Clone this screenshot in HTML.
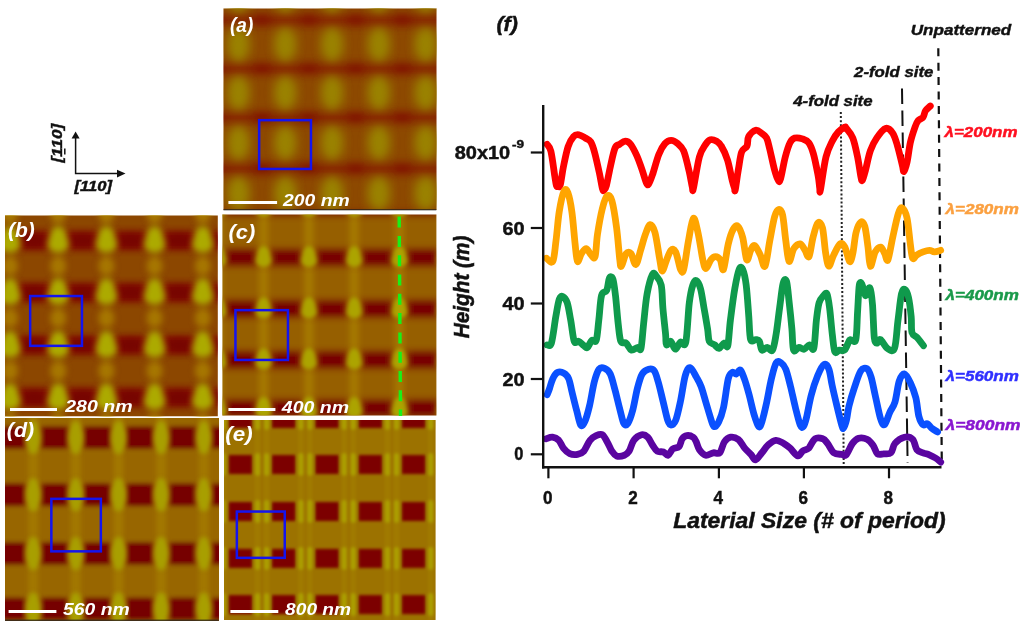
<!DOCTYPE html>
<html><head><meta charset="utf-8"><title>Figure</title>
<style>
html,body{margin:0;padding:0;background:#fff;}
body{width:1024px;height:626px;overflow:hidden;position:relative;}
svg{position:absolute;left:0;top:0;}
text{font-family:"Liberation Sans",sans-serif;font-weight:bold;}
</style></head><body>
<svg width="1024" height="626" viewBox="0 0 1024 626">
<defs><clipPath id="ca"><rect x="223.5" y="8.5" width="213" height="201.5"/></clipPath><clipPath id="cb"><rect x="5" y="215.6" width="212.8" height="200.6"/></clipPath><clipPath id="cc"><rect x="222.4" y="214.5" width="214" height="201"/></clipPath><clipPath id="cd"><rect x="5" y="418" width="213.7" height="202.5"/></clipPath><clipPath id="ce"><rect x="224" y="420" width="211.6" height="200"/></clipPath><filter id="f1" x="-5%" y="-5%" width="110%" height="110%"><feGaussianBlur stdDeviation="1.2"/></filter><filter id="f15" x="-5%" y="-5%" width="110%" height="110%"><feGaussianBlur stdDeviation="1.6"/></filter><filter id="f2" x="-5%" y="-5%" width="110%" height="110%"><feGaussianBlur stdDeviation="2.2"/></filter><filter id="f3" x="-5%" y="-5%" width="110%" height="110%"><feGaussianBlur stdDeviation="3"/></filter><filter id="f4" x="-5%" y="-5%" width="110%" height="110%"><feGaussianBlur stdDeviation="4"/></filter><filter id="f5" x="-5%" y="-5%" width="110%" height="110%"><feGaussianBlur stdDeviation="5"/></filter><filter id="f6" x="-5%" y="-5%" width="110%" height="110%"><feGaussianBlur stdDeviation="6"/></filter></defs>
<g clip-path="url(#ca)"><g filter="url(#f5)"><rect x="211.5" y="-3.5" width="237" height="225.5" fill="#8e4e04"/><rect x="165.3" y="-3.5" width="6" height="225.5" fill="#883000" opacity="0.35"/><rect x="212.1" y="-3.5" width="6" height="225.5" fill="#883000" opacity="0.35"/><rect x="258.9" y="-3.5" width="6" height="225.5" fill="#883000" opacity="0.35"/><rect x="305.8" y="-3.5" width="6" height="225.5" fill="#883000" opacity="0.35"/><rect x="352.6" y="-3.5" width="6" height="225.5" fill="#883000" opacity="0.35"/><rect x="399.4" y="-3.5" width="6" height="225.5" fill="#883000" opacity="0.35"/><rect x="446.2" y="-3.5" width="6" height="225.5" fill="#883000" opacity="0.35"/><rect x="493.0" y="-3.5" width="6" height="225.5" fill="#883000" opacity="0.35"/><rect x="539.8" y="-3.5" width="6" height="225.5" fill="#883000" opacity="0.35"/><rect x="211.5" y="-35.2" width="237" height="13" fill="#862000" opacity="0.9"/><rect x="211.5" y="13.5" width="237" height="13" fill="#862000" opacity="0.9"/><rect x="211.5" y="62.2" width="237" height="13" fill="#862000" opacity="0.9"/><rect x="211.5" y="111.0" width="237" height="13" fill="#862000" opacity="0.9"/><rect x="211.5" y="162.1" width="237" height="13" fill="#862000" opacity="0.9"/><rect x="211.5" y="212.1" width="237" height="13" fill="#862000" opacity="0.9"/></g><g filter="url(#f3)"><ellipse cx="168.3" cy="-28.7" rx="9" ry="5" fill="#781000" opacity="0.4"/><ellipse cx="215.1" cy="-28.7" rx="9" ry="5" fill="#781000" opacity="0.4"/><ellipse cx="261.9" cy="-28.7" rx="9" ry="5" fill="#781000" opacity="0.4"/><ellipse cx="308.8" cy="-28.7" rx="9" ry="5" fill="#781000" opacity="0.4"/><ellipse cx="355.6" cy="-28.7" rx="9" ry="5" fill="#781000" opacity="0.4"/><ellipse cx="402.4" cy="-28.7" rx="9" ry="5" fill="#781000" opacity="0.4"/><ellipse cx="449.2" cy="-28.7" rx="9" ry="5" fill="#781000" opacity="0.4"/><ellipse cx="496.0" cy="-28.7" rx="9" ry="5" fill="#781000" opacity="0.4"/><ellipse cx="542.8" cy="-28.7" rx="9" ry="5" fill="#781000" opacity="0.4"/><ellipse cx="168.3" cy="20.0" rx="9" ry="5" fill="#781000" opacity="0.4"/><ellipse cx="215.1" cy="20.0" rx="9" ry="5" fill="#781000" opacity="0.4"/><ellipse cx="261.9" cy="20.0" rx="9" ry="5" fill="#781000" opacity="0.4"/><ellipse cx="308.8" cy="20.0" rx="9" ry="5" fill="#781000" opacity="0.4"/><ellipse cx="355.6" cy="20.0" rx="9" ry="5" fill="#781000" opacity="0.4"/><ellipse cx="402.4" cy="20.0" rx="9" ry="5" fill="#781000" opacity="0.4"/><ellipse cx="449.2" cy="20.0" rx="9" ry="5" fill="#781000" opacity="0.4"/><ellipse cx="496.0" cy="20.0" rx="9" ry="5" fill="#781000" opacity="0.4"/><ellipse cx="542.8" cy="20.0" rx="9" ry="5" fill="#781000" opacity="0.4"/><ellipse cx="168.3" cy="68.7" rx="9" ry="5" fill="#781000" opacity="0.4"/><ellipse cx="215.1" cy="68.7" rx="9" ry="5" fill="#781000" opacity="0.4"/><ellipse cx="261.9" cy="68.7" rx="9" ry="5" fill="#781000" opacity="0.4"/><ellipse cx="308.8" cy="68.7" rx="9" ry="5" fill="#781000" opacity="0.4"/><ellipse cx="355.6" cy="68.7" rx="9" ry="5" fill="#781000" opacity="0.4"/><ellipse cx="402.4" cy="68.7" rx="9" ry="5" fill="#781000" opacity="0.4"/><ellipse cx="449.2" cy="68.7" rx="9" ry="5" fill="#781000" opacity="0.4"/><ellipse cx="496.0" cy="68.7" rx="9" ry="5" fill="#781000" opacity="0.4"/><ellipse cx="542.8" cy="68.7" rx="9" ry="5" fill="#781000" opacity="0.4"/><ellipse cx="168.3" cy="117.5" rx="9" ry="5" fill="#781000" opacity="0.4"/><ellipse cx="215.1" cy="117.5" rx="9" ry="5" fill="#781000" opacity="0.4"/><ellipse cx="261.9" cy="117.5" rx="9" ry="5" fill="#781000" opacity="0.4"/><ellipse cx="308.8" cy="117.5" rx="9" ry="5" fill="#781000" opacity="0.4"/><ellipse cx="355.6" cy="117.5" rx="9" ry="5" fill="#781000" opacity="0.4"/><ellipse cx="402.4" cy="117.5" rx="9" ry="5" fill="#781000" opacity="0.4"/><ellipse cx="449.2" cy="117.5" rx="9" ry="5" fill="#781000" opacity="0.4"/><ellipse cx="496.0" cy="117.5" rx="9" ry="5" fill="#781000" opacity="0.4"/><ellipse cx="542.8" cy="117.5" rx="9" ry="5" fill="#781000" opacity="0.4"/><ellipse cx="168.3" cy="168.6" rx="9" ry="5" fill="#781000" opacity="0.4"/><ellipse cx="215.1" cy="168.6" rx="9" ry="5" fill="#781000" opacity="0.4"/><ellipse cx="261.9" cy="168.6" rx="9" ry="5" fill="#781000" opacity="0.4"/><ellipse cx="308.8" cy="168.6" rx="9" ry="5" fill="#781000" opacity="0.4"/><ellipse cx="355.6" cy="168.6" rx="9" ry="5" fill="#781000" opacity="0.4"/><ellipse cx="402.4" cy="168.6" rx="9" ry="5" fill="#781000" opacity="0.4"/><ellipse cx="449.2" cy="168.6" rx="9" ry="5" fill="#781000" opacity="0.4"/><ellipse cx="496.0" cy="168.6" rx="9" ry="5" fill="#781000" opacity="0.4"/><ellipse cx="542.8" cy="168.6" rx="9" ry="5" fill="#781000" opacity="0.4"/><ellipse cx="168.3" cy="218.6" rx="9" ry="5" fill="#781000" opacity="0.4"/><ellipse cx="215.1" cy="218.6" rx="9" ry="5" fill="#781000" opacity="0.4"/><ellipse cx="261.9" cy="218.6" rx="9" ry="5" fill="#781000" opacity="0.4"/><ellipse cx="308.8" cy="218.6" rx="9" ry="5" fill="#781000" opacity="0.4"/><ellipse cx="355.6" cy="218.6" rx="9" ry="5" fill="#781000" opacity="0.4"/><ellipse cx="402.4" cy="218.6" rx="9" ry="5" fill="#781000" opacity="0.4"/><ellipse cx="449.2" cy="218.6" rx="9" ry="5" fill="#781000" opacity="0.4"/><ellipse cx="496.0" cy="218.6" rx="9" ry="5" fill="#781000" opacity="0.4"/><ellipse cx="542.8" cy="218.6" rx="9" ry="5" fill="#781000" opacity="0.4"/></g><g filter="url(#f5)"><ellipse cx="144.9" cy="-4.4" rx="11" ry="17" fill="#9a8200"/><ellipse cx="191.7" cy="-4.4" rx="11" ry="17" fill="#9a8200"/><ellipse cx="238.5" cy="-4.4" rx="11" ry="17" fill="#9a8200"/><ellipse cx="285.3" cy="-4.4" rx="11" ry="17" fill="#9a8200"/><ellipse cx="332.1" cy="-4.4" rx="11" ry="17" fill="#9a8200"/><ellipse cx="378.9" cy="-4.4" rx="11" ry="17" fill="#9a8200"/><ellipse cx="425.7" cy="-4.4" rx="11" ry="17" fill="#9a8200"/><ellipse cx="472.5" cy="-4.4" rx="11" ry="17" fill="#9a8200"/><ellipse cx="519.3" cy="-4.4" rx="11" ry="17" fill="#9a8200"/><ellipse cx="144.9" cy="44.4" rx="11" ry="17" fill="#9a8200"/><ellipse cx="191.7" cy="44.4" rx="11" ry="17" fill="#9a8200"/><ellipse cx="238.5" cy="44.4" rx="11" ry="17" fill="#9a8200"/><ellipse cx="285.3" cy="44.4" rx="11" ry="17" fill="#9a8200"/><ellipse cx="332.1" cy="44.4" rx="11" ry="17" fill="#9a8200"/><ellipse cx="378.9" cy="44.4" rx="11" ry="17" fill="#9a8200"/><ellipse cx="425.7" cy="44.4" rx="11" ry="17" fill="#9a8200"/><ellipse cx="472.5" cy="44.4" rx="11" ry="17" fill="#9a8200"/><ellipse cx="519.3" cy="44.4" rx="11" ry="17" fill="#9a8200"/><ellipse cx="144.9" cy="93.1" rx="11" ry="17" fill="#9a8200"/><ellipse cx="191.7" cy="93.1" rx="11" ry="17" fill="#9a8200"/><ellipse cx="238.5" cy="93.1" rx="11" ry="17" fill="#9a8200"/><ellipse cx="285.3" cy="93.1" rx="11" ry="17" fill="#9a8200"/><ellipse cx="332.1" cy="93.1" rx="11" ry="17" fill="#9a8200"/><ellipse cx="378.9" cy="93.1" rx="11" ry="17" fill="#9a8200"/><ellipse cx="425.7" cy="93.1" rx="11" ry="17" fill="#9a8200"/><ellipse cx="472.5" cy="93.1" rx="11" ry="17" fill="#9a8200"/><ellipse cx="519.3" cy="93.1" rx="11" ry="17" fill="#9a8200"/><ellipse cx="144.9" cy="143.1" rx="11" ry="17" fill="#9a8200"/><ellipse cx="191.7" cy="143.1" rx="11" ry="17" fill="#9a8200"/><ellipse cx="238.5" cy="143.1" rx="11" ry="17" fill="#9a8200"/><ellipse cx="285.3" cy="143.1" rx="11" ry="17" fill="#9a8200"/><ellipse cx="332.1" cy="143.1" rx="11" ry="17" fill="#9a8200"/><ellipse cx="378.9" cy="143.1" rx="11" ry="17" fill="#9a8200"/><ellipse cx="425.7" cy="143.1" rx="11" ry="17" fill="#9a8200"/><ellipse cx="472.5" cy="143.1" rx="11" ry="17" fill="#9a8200"/><ellipse cx="519.3" cy="143.1" rx="11" ry="17" fill="#9a8200"/><ellipse cx="144.9" cy="193.6" rx="11" ry="17" fill="#9a8200"/><ellipse cx="191.7" cy="193.6" rx="11" ry="17" fill="#9a8200"/><ellipse cx="238.5" cy="193.6" rx="11" ry="17" fill="#9a8200"/><ellipse cx="285.3" cy="193.6" rx="11" ry="17" fill="#9a8200"/><ellipse cx="332.1" cy="193.6" rx="11" ry="17" fill="#9a8200"/><ellipse cx="378.9" cy="193.6" rx="11" ry="17" fill="#9a8200"/><ellipse cx="425.7" cy="193.6" rx="11" ry="17" fill="#9a8200"/><ellipse cx="472.5" cy="193.6" rx="11" ry="17" fill="#9a8200"/><ellipse cx="519.3" cy="193.6" rx="11" ry="17" fill="#9a8200"/></g></g>
<g clip-path="url(#cb)"><g filter="url(#f3)"><rect x="-7" y="203.6" width="236.8" height="224.6" fill="#8c4600"/><rect x="-7" y="177.5" width="236.8" height="22" fill="#841000"/><rect x="-7" y="229.5" width="236.8" height="22" fill="#841000"/><rect x="-7" y="281.5" width="236.8" height="22" fill="#841000"/><rect x="-7" y="334.2" width="236.8" height="22" fill="#841000"/><rect x="-7" y="386.5" width="236.8" height="22" fill="#841000"/><rect x="-7" y="438.5" width="236.8" height="22" fill="#841000"/></g><g filter="url(#f3)"><ellipse cx="-14.1" cy="188.5" rx="12" ry="7" fill="#6e0600" opacity="0.6"/><ellipse cx="-38.2" cy="214.0" rx="8" ry="10" fill="#b89600" opacity="0.6"/><ellipse cx="34.1" cy="188.5" rx="12" ry="7" fill="#6e0600" opacity="0.6"/><ellipse cx="10.0" cy="214.0" rx="8" ry="10" fill="#b89600" opacity="0.6"/><ellipse cx="82.3" cy="188.5" rx="12" ry="7" fill="#6e0600" opacity="0.6"/><ellipse cx="58.2" cy="214.0" rx="8" ry="10" fill="#b89600" opacity="0.6"/><ellipse cx="130.5" cy="188.5" rx="12" ry="7" fill="#6e0600" opacity="0.6"/><ellipse cx="106.4" cy="214.0" rx="8" ry="10" fill="#b89600" opacity="0.6"/><ellipse cx="178.7" cy="188.5" rx="12" ry="7" fill="#6e0600" opacity="0.6"/><ellipse cx="154.6" cy="214.0" rx="8" ry="10" fill="#b89600" opacity="0.6"/><ellipse cx="226.9" cy="188.5" rx="12" ry="7" fill="#6e0600" opacity="0.6"/><ellipse cx="202.8" cy="214.0" rx="8" ry="10" fill="#b89600" opacity="0.6"/><ellipse cx="275.1" cy="188.5" rx="12" ry="7" fill="#6e0600" opacity="0.6"/><ellipse cx="251.0" cy="214.0" rx="8" ry="10" fill="#b89600" opacity="0.6"/><ellipse cx="323.3" cy="188.5" rx="12" ry="7" fill="#6e0600" opacity="0.6"/><ellipse cx="299.2" cy="214.0" rx="8" ry="10" fill="#b89600" opacity="0.6"/><ellipse cx="-14.1" cy="240.5" rx="12" ry="7" fill="#6e0600" opacity="0.6"/><ellipse cx="-38.2" cy="266.0" rx="8" ry="10" fill="#b89600" opacity="0.6"/><ellipse cx="34.1" cy="240.5" rx="12" ry="7" fill="#6e0600" opacity="0.6"/><ellipse cx="10.0" cy="266.0" rx="8" ry="10" fill="#b89600" opacity="0.6"/><ellipse cx="82.3" cy="240.5" rx="12" ry="7" fill="#6e0600" opacity="0.6"/><ellipse cx="58.2" cy="266.0" rx="8" ry="10" fill="#b89600" opacity="0.6"/><ellipse cx="130.5" cy="240.5" rx="12" ry="7" fill="#6e0600" opacity="0.6"/><ellipse cx="106.4" cy="266.0" rx="8" ry="10" fill="#b89600" opacity="0.6"/><ellipse cx="178.7" cy="240.5" rx="12" ry="7" fill="#6e0600" opacity="0.6"/><ellipse cx="154.6" cy="266.0" rx="8" ry="10" fill="#b89600" opacity="0.6"/><ellipse cx="226.9" cy="240.5" rx="12" ry="7" fill="#6e0600" opacity="0.6"/><ellipse cx="202.8" cy="266.0" rx="8" ry="10" fill="#b89600" opacity="0.6"/><ellipse cx="275.1" cy="240.5" rx="12" ry="7" fill="#6e0600" opacity="0.6"/><ellipse cx="251.0" cy="266.0" rx="8" ry="10" fill="#b89600" opacity="0.6"/><ellipse cx="323.3" cy="240.5" rx="12" ry="7" fill="#6e0600" opacity="0.6"/><ellipse cx="299.2" cy="266.0" rx="8" ry="10" fill="#b89600" opacity="0.6"/><ellipse cx="-14.1" cy="292.5" rx="12" ry="7" fill="#6e0600" opacity="0.6"/><ellipse cx="-38.2" cy="318.0" rx="8" ry="10" fill="#b89600" opacity="0.6"/><ellipse cx="34.1" cy="292.5" rx="12" ry="7" fill="#6e0600" opacity="0.6"/><ellipse cx="10.0" cy="318.0" rx="8" ry="10" fill="#b89600" opacity="0.6"/><ellipse cx="82.3" cy="292.5" rx="12" ry="7" fill="#6e0600" opacity="0.6"/><ellipse cx="58.2" cy="318.0" rx="8" ry="10" fill="#b89600" opacity="0.6"/><ellipse cx="130.5" cy="292.5" rx="12" ry="7" fill="#6e0600" opacity="0.6"/><ellipse cx="106.4" cy="318.0" rx="8" ry="10" fill="#b89600" opacity="0.6"/><ellipse cx="178.7" cy="292.5" rx="12" ry="7" fill="#6e0600" opacity="0.6"/><ellipse cx="154.6" cy="318.0" rx="8" ry="10" fill="#b89600" opacity="0.6"/><ellipse cx="226.9" cy="292.5" rx="12" ry="7" fill="#6e0600" opacity="0.6"/><ellipse cx="202.8" cy="318.0" rx="8" ry="10" fill="#b89600" opacity="0.6"/><ellipse cx="275.1" cy="292.5" rx="12" ry="7" fill="#6e0600" opacity="0.6"/><ellipse cx="251.0" cy="318.0" rx="8" ry="10" fill="#b89600" opacity="0.6"/><ellipse cx="323.3" cy="292.5" rx="12" ry="7" fill="#6e0600" opacity="0.6"/><ellipse cx="299.2" cy="318.0" rx="8" ry="10" fill="#b89600" opacity="0.6"/><ellipse cx="-14.1" cy="345.2" rx="12" ry="7" fill="#6e0600" opacity="0.6"/><ellipse cx="-38.2" cy="370.7" rx="8" ry="10" fill="#b89600" opacity="0.6"/><ellipse cx="34.1" cy="345.2" rx="12" ry="7" fill="#6e0600" opacity="0.6"/><ellipse cx="10.0" cy="370.7" rx="8" ry="10" fill="#b89600" opacity="0.6"/><ellipse cx="82.3" cy="345.2" rx="12" ry="7" fill="#6e0600" opacity="0.6"/><ellipse cx="58.2" cy="370.7" rx="8" ry="10" fill="#b89600" opacity="0.6"/><ellipse cx="130.5" cy="345.2" rx="12" ry="7" fill="#6e0600" opacity="0.6"/><ellipse cx="106.4" cy="370.7" rx="8" ry="10" fill="#b89600" opacity="0.6"/><ellipse cx="178.7" cy="345.2" rx="12" ry="7" fill="#6e0600" opacity="0.6"/><ellipse cx="154.6" cy="370.7" rx="8" ry="10" fill="#b89600" opacity="0.6"/><ellipse cx="226.9" cy="345.2" rx="12" ry="7" fill="#6e0600" opacity="0.6"/><ellipse cx="202.8" cy="370.7" rx="8" ry="10" fill="#b89600" opacity="0.6"/><ellipse cx="275.1" cy="345.2" rx="12" ry="7" fill="#6e0600" opacity="0.6"/><ellipse cx="251.0" cy="370.7" rx="8" ry="10" fill="#b89600" opacity="0.6"/><ellipse cx="323.3" cy="345.2" rx="12" ry="7" fill="#6e0600" opacity="0.6"/><ellipse cx="299.2" cy="370.7" rx="8" ry="10" fill="#b89600" opacity="0.6"/><ellipse cx="-14.1" cy="397.5" rx="12" ry="7" fill="#6e0600" opacity="0.6"/><ellipse cx="-38.2" cy="423.0" rx="8" ry="10" fill="#b89600" opacity="0.6"/><ellipse cx="34.1" cy="397.5" rx="12" ry="7" fill="#6e0600" opacity="0.6"/><ellipse cx="10.0" cy="423.0" rx="8" ry="10" fill="#b89600" opacity="0.6"/><ellipse cx="82.3" cy="397.5" rx="12" ry="7" fill="#6e0600" opacity="0.6"/><ellipse cx="58.2" cy="423.0" rx="8" ry="10" fill="#b89600" opacity="0.6"/><ellipse cx="130.5" cy="397.5" rx="12" ry="7" fill="#6e0600" opacity="0.6"/><ellipse cx="106.4" cy="423.0" rx="8" ry="10" fill="#b89600" opacity="0.6"/><ellipse cx="178.7" cy="397.5" rx="12" ry="7" fill="#6e0600" opacity="0.6"/><ellipse cx="154.6" cy="423.0" rx="8" ry="10" fill="#b89600" opacity="0.6"/><ellipse cx="226.9" cy="397.5" rx="12" ry="7" fill="#6e0600" opacity="0.6"/><ellipse cx="202.8" cy="423.0" rx="8" ry="10" fill="#b89600" opacity="0.6"/><ellipse cx="275.1" cy="397.5" rx="12" ry="7" fill="#6e0600" opacity="0.6"/><ellipse cx="251.0" cy="423.0" rx="8" ry="10" fill="#b89600" opacity="0.6"/><ellipse cx="323.3" cy="397.5" rx="12" ry="7" fill="#6e0600" opacity="0.6"/><ellipse cx="299.2" cy="423.0" rx="8" ry="10" fill="#b89600" opacity="0.6"/><ellipse cx="-14.1" cy="449.5" rx="12" ry="7" fill="#6e0600" opacity="0.6"/><ellipse cx="-38.2" cy="475.0" rx="8" ry="10" fill="#b89600" opacity="0.6"/><ellipse cx="34.1" cy="449.5" rx="12" ry="7" fill="#6e0600" opacity="0.6"/><ellipse cx="10.0" cy="475.0" rx="8" ry="10" fill="#b89600" opacity="0.6"/><ellipse cx="82.3" cy="449.5" rx="12" ry="7" fill="#6e0600" opacity="0.6"/><ellipse cx="58.2" cy="475.0" rx="8" ry="10" fill="#b89600" opacity="0.6"/><ellipse cx="130.5" cy="449.5" rx="12" ry="7" fill="#6e0600" opacity="0.6"/><ellipse cx="106.4" cy="475.0" rx="8" ry="10" fill="#b89600" opacity="0.6"/><ellipse cx="178.7" cy="449.5" rx="12" ry="7" fill="#6e0600" opacity="0.6"/><ellipse cx="154.6" cy="475.0" rx="8" ry="10" fill="#b89600" opacity="0.6"/><ellipse cx="226.9" cy="449.5" rx="12" ry="7" fill="#6e0600" opacity="0.6"/><ellipse cx="202.8" cy="475.0" rx="8" ry="10" fill="#b89600" opacity="0.6"/><ellipse cx="275.1" cy="449.5" rx="12" ry="7" fill="#6e0600" opacity="0.6"/><ellipse cx="251.0" cy="475.0" rx="8" ry="10" fill="#b89600" opacity="0.6"/><ellipse cx="323.3" cy="449.5" rx="12" ry="7" fill="#6e0600" opacity="0.6"/><ellipse cx="299.2" cy="475.0" rx="8" ry="10" fill="#b89600" opacity="0.6"/></g><g filter="url(#f3)"><ellipse cx="-38.2" cy="187.5" rx="9.5" ry="13.5" fill="#acaa00"/><ellipse cx="-38.2" cy="192.5" rx="11" ry="9" fill="#acaa00"/><ellipse cx="10.0" cy="187.5" rx="9.5" ry="13.5" fill="#acaa00"/><ellipse cx="10.0" cy="192.5" rx="11" ry="9" fill="#acaa00"/><ellipse cx="58.2" cy="187.5" rx="9.5" ry="13.5" fill="#acaa00"/><ellipse cx="58.2" cy="192.5" rx="11" ry="9" fill="#acaa00"/><ellipse cx="106.4" cy="187.5" rx="9.5" ry="13.5" fill="#acaa00"/><ellipse cx="106.4" cy="192.5" rx="11" ry="9" fill="#acaa00"/><ellipse cx="154.6" cy="187.5" rx="9.5" ry="13.5" fill="#acaa00"/><ellipse cx="154.6" cy="192.5" rx="11" ry="9" fill="#acaa00"/><ellipse cx="202.8" cy="187.5" rx="9.5" ry="13.5" fill="#acaa00"/><ellipse cx="202.8" cy="192.5" rx="11" ry="9" fill="#acaa00"/><ellipse cx="251.0" cy="187.5" rx="9.5" ry="13.5" fill="#acaa00"/><ellipse cx="251.0" cy="192.5" rx="11" ry="9" fill="#acaa00"/><ellipse cx="299.2" cy="187.5" rx="9.5" ry="13.5" fill="#acaa00"/><ellipse cx="299.2" cy="192.5" rx="11" ry="9" fill="#acaa00"/><ellipse cx="-38.2" cy="239.5" rx="9.5" ry="13.5" fill="#acaa00"/><ellipse cx="-38.2" cy="244.5" rx="11" ry="9" fill="#acaa00"/><ellipse cx="10.0" cy="239.5" rx="9.5" ry="13.5" fill="#acaa00"/><ellipse cx="10.0" cy="244.5" rx="11" ry="9" fill="#acaa00"/><ellipse cx="58.2" cy="239.5" rx="9.5" ry="13.5" fill="#acaa00"/><ellipse cx="58.2" cy="244.5" rx="11" ry="9" fill="#acaa00"/><ellipse cx="106.4" cy="239.5" rx="9.5" ry="13.5" fill="#acaa00"/><ellipse cx="106.4" cy="244.5" rx="11" ry="9" fill="#acaa00"/><ellipse cx="154.6" cy="239.5" rx="9.5" ry="13.5" fill="#acaa00"/><ellipse cx="154.6" cy="244.5" rx="11" ry="9" fill="#acaa00"/><ellipse cx="202.8" cy="239.5" rx="9.5" ry="13.5" fill="#acaa00"/><ellipse cx="202.8" cy="244.5" rx="11" ry="9" fill="#acaa00"/><ellipse cx="251.0" cy="239.5" rx="9.5" ry="13.5" fill="#acaa00"/><ellipse cx="251.0" cy="244.5" rx="11" ry="9" fill="#acaa00"/><ellipse cx="299.2" cy="239.5" rx="9.5" ry="13.5" fill="#acaa00"/><ellipse cx="299.2" cy="244.5" rx="11" ry="9" fill="#acaa00"/><ellipse cx="-38.2" cy="291.5" rx="9.5" ry="13.5" fill="#acaa00"/><ellipse cx="-38.2" cy="296.5" rx="11" ry="9" fill="#acaa00"/><ellipse cx="10.0" cy="291.5" rx="9.5" ry="13.5" fill="#acaa00"/><ellipse cx="10.0" cy="296.5" rx="11" ry="9" fill="#acaa00"/><ellipse cx="58.2" cy="291.5" rx="9.5" ry="13.5" fill="#acaa00"/><ellipse cx="58.2" cy="296.5" rx="11" ry="9" fill="#acaa00"/><ellipse cx="106.4" cy="291.5" rx="9.5" ry="13.5" fill="#acaa00"/><ellipse cx="106.4" cy="296.5" rx="11" ry="9" fill="#acaa00"/><ellipse cx="154.6" cy="291.5" rx="9.5" ry="13.5" fill="#acaa00"/><ellipse cx="154.6" cy="296.5" rx="11" ry="9" fill="#acaa00"/><ellipse cx="202.8" cy="291.5" rx="9.5" ry="13.5" fill="#acaa00"/><ellipse cx="202.8" cy="296.5" rx="11" ry="9" fill="#acaa00"/><ellipse cx="251.0" cy="291.5" rx="9.5" ry="13.5" fill="#acaa00"/><ellipse cx="251.0" cy="296.5" rx="11" ry="9" fill="#acaa00"/><ellipse cx="299.2" cy="291.5" rx="9.5" ry="13.5" fill="#acaa00"/><ellipse cx="299.2" cy="296.5" rx="11" ry="9" fill="#acaa00"/><ellipse cx="-38.2" cy="344.2" rx="9.5" ry="13.5" fill="#acaa00"/><ellipse cx="-38.2" cy="349.2" rx="11" ry="9" fill="#acaa00"/><ellipse cx="10.0" cy="344.2" rx="9.5" ry="13.5" fill="#acaa00"/><ellipse cx="10.0" cy="349.2" rx="11" ry="9" fill="#acaa00"/><ellipse cx="58.2" cy="344.2" rx="9.5" ry="13.5" fill="#acaa00"/><ellipse cx="58.2" cy="349.2" rx="11" ry="9" fill="#acaa00"/><ellipse cx="106.4" cy="344.2" rx="9.5" ry="13.5" fill="#acaa00"/><ellipse cx="106.4" cy="349.2" rx="11" ry="9" fill="#acaa00"/><ellipse cx="154.6" cy="344.2" rx="9.5" ry="13.5" fill="#acaa00"/><ellipse cx="154.6" cy="349.2" rx="11" ry="9" fill="#acaa00"/><ellipse cx="202.8" cy="344.2" rx="9.5" ry="13.5" fill="#acaa00"/><ellipse cx="202.8" cy="349.2" rx="11" ry="9" fill="#acaa00"/><ellipse cx="251.0" cy="344.2" rx="9.5" ry="13.5" fill="#acaa00"/><ellipse cx="251.0" cy="349.2" rx="11" ry="9" fill="#acaa00"/><ellipse cx="299.2" cy="344.2" rx="9.5" ry="13.5" fill="#acaa00"/><ellipse cx="299.2" cy="349.2" rx="11" ry="9" fill="#acaa00"/><ellipse cx="-38.2" cy="396.5" rx="9.5" ry="13.5" fill="#acaa00"/><ellipse cx="-38.2" cy="401.5" rx="11" ry="9" fill="#acaa00"/><ellipse cx="10.0" cy="396.5" rx="9.5" ry="13.5" fill="#acaa00"/><ellipse cx="10.0" cy="401.5" rx="11" ry="9" fill="#acaa00"/><ellipse cx="58.2" cy="396.5" rx="9.5" ry="13.5" fill="#acaa00"/><ellipse cx="58.2" cy="401.5" rx="11" ry="9" fill="#acaa00"/><ellipse cx="106.4" cy="396.5" rx="9.5" ry="13.5" fill="#acaa00"/><ellipse cx="106.4" cy="401.5" rx="11" ry="9" fill="#acaa00"/><ellipse cx="154.6" cy="396.5" rx="9.5" ry="13.5" fill="#acaa00"/><ellipse cx="154.6" cy="401.5" rx="11" ry="9" fill="#acaa00"/><ellipse cx="202.8" cy="396.5" rx="9.5" ry="13.5" fill="#acaa00"/><ellipse cx="202.8" cy="401.5" rx="11" ry="9" fill="#acaa00"/><ellipse cx="251.0" cy="396.5" rx="9.5" ry="13.5" fill="#acaa00"/><ellipse cx="251.0" cy="401.5" rx="11" ry="9" fill="#acaa00"/><ellipse cx="299.2" cy="396.5" rx="9.5" ry="13.5" fill="#acaa00"/><ellipse cx="299.2" cy="401.5" rx="11" ry="9" fill="#acaa00"/><ellipse cx="-38.2" cy="448.5" rx="9.5" ry="13.5" fill="#acaa00"/><ellipse cx="-38.2" cy="453.5" rx="11" ry="9" fill="#acaa00"/><ellipse cx="10.0" cy="448.5" rx="9.5" ry="13.5" fill="#acaa00"/><ellipse cx="10.0" cy="453.5" rx="11" ry="9" fill="#acaa00"/><ellipse cx="58.2" cy="448.5" rx="9.5" ry="13.5" fill="#acaa00"/><ellipse cx="58.2" cy="453.5" rx="11" ry="9" fill="#acaa00"/><ellipse cx="106.4" cy="448.5" rx="9.5" ry="13.5" fill="#acaa00"/><ellipse cx="106.4" cy="453.5" rx="11" ry="9" fill="#acaa00"/><ellipse cx="154.6" cy="448.5" rx="9.5" ry="13.5" fill="#acaa00"/><ellipse cx="154.6" cy="453.5" rx="11" ry="9" fill="#acaa00"/><ellipse cx="202.8" cy="448.5" rx="9.5" ry="13.5" fill="#acaa00"/><ellipse cx="202.8" cy="453.5" rx="11" ry="9" fill="#acaa00"/><ellipse cx="251.0" cy="448.5" rx="9.5" ry="13.5" fill="#acaa00"/><ellipse cx="251.0" cy="453.5" rx="11" ry="9" fill="#acaa00"/><ellipse cx="299.2" cy="448.5" rx="9.5" ry="13.5" fill="#acaa00"/><ellipse cx="299.2" cy="453.5" rx="11" ry="9" fill="#acaa00"/></g></g>
<g clip-path="url(#cc)"><g filter="url(#f3)"><rect x="210.4" y="202.5" width="238" height="225" fill="#965e00"/><rect x="169.0" y="202.5" width="8" height="225" fill="#c0a808" opacity="0.4"/><rect x="214.3" y="202.5" width="8" height="225" fill="#c0a808" opacity="0.4"/><rect x="259.6" y="202.5" width="8" height="225" fill="#c0a808" opacity="0.4"/><rect x="304.9" y="202.5" width="8" height="225" fill="#c0a808" opacity="0.4"/><rect x="350.2" y="202.5" width="8" height="225" fill="#c0a808" opacity="0.4"/><rect x="395.5" y="202.5" width="8" height="225" fill="#c0a808" opacity="0.4"/><rect x="440.8" y="202.5" width="8" height="225" fill="#c0a808" opacity="0.4"/><rect x="486.1" y="202.5" width="8" height="225" fill="#c0a808" opacity="0.4"/><rect x="210.4" y="197.0" width="238" height="20" fill="#8a2000" opacity="0.55"/><rect x="181.7" y="198.5" width="28" height="17" rx="2" fill="#780200"/><rect x="227.0" y="198.5" width="28" height="17" rx="2" fill="#780200"/><rect x="272.2" y="198.5" width="28" height="17" rx="2" fill="#780200"/><rect x="317.6" y="198.5" width="28" height="17" rx="2" fill="#780200"/><rect x="362.9" y="198.5" width="28" height="17" rx="2" fill="#780200"/><rect x="408.2" y="198.5" width="28" height="17" rx="2" fill="#780200"/><rect x="453.5" y="198.5" width="28" height="17" rx="2" fill="#780200"/><rect x="498.8" y="198.5" width="28" height="17" rx="2" fill="#780200"/><rect x="210.4" y="247.5" width="238" height="20" fill="#8a2000" opacity="0.55"/><rect x="181.7" y="249.0" width="28" height="17" rx="2" fill="#780200"/><rect x="227.0" y="249.0" width="28" height="17" rx="2" fill="#780200"/><rect x="272.2" y="249.0" width="28" height="17" rx="2" fill="#780200"/><rect x="317.6" y="249.0" width="28" height="17" rx="2" fill="#780200"/><rect x="362.9" y="249.0" width="28" height="17" rx="2" fill="#780200"/><rect x="408.2" y="249.0" width="28" height="17" rx="2" fill="#780200"/><rect x="453.5" y="249.0" width="28" height="17" rx="2" fill="#780200"/><rect x="498.8" y="249.0" width="28" height="17" rx="2" fill="#780200"/><rect x="210.4" y="298.7" width="238" height="20" fill="#8a2000" opacity="0.55"/><rect x="181.7" y="300.2" width="28" height="17" rx="2" fill="#780200"/><rect x="227.0" y="300.2" width="28" height="17" rx="2" fill="#780200"/><rect x="272.2" y="300.2" width="28" height="17" rx="2" fill="#780200"/><rect x="317.6" y="300.2" width="28" height="17" rx="2" fill="#780200"/><rect x="362.9" y="300.2" width="28" height="17" rx="2" fill="#780200"/><rect x="408.2" y="300.2" width="28" height="17" rx="2" fill="#780200"/><rect x="453.5" y="300.2" width="28" height="17" rx="2" fill="#780200"/><rect x="498.8" y="300.2" width="28" height="17" rx="2" fill="#780200"/><rect x="210.4" y="349.8" width="238" height="20" fill="#8a2000" opacity="0.55"/><rect x="181.7" y="351.3" width="28" height="17" rx="2" fill="#780200"/><rect x="227.0" y="351.3" width="28" height="17" rx="2" fill="#780200"/><rect x="272.2" y="351.3" width="28" height="17" rx="2" fill="#780200"/><rect x="317.6" y="351.3" width="28" height="17" rx="2" fill="#780200"/><rect x="362.9" y="351.3" width="28" height="17" rx="2" fill="#780200"/><rect x="408.2" y="351.3" width="28" height="17" rx="2" fill="#780200"/><rect x="453.5" y="351.3" width="28" height="17" rx="2" fill="#780200"/><rect x="498.8" y="351.3" width="28" height="17" rx="2" fill="#780200"/><rect x="210.4" y="398.3" width="238" height="20" fill="#8a2000" opacity="0.55"/><rect x="181.7" y="399.8" width="28" height="17" rx="2" fill="#780200"/><rect x="227.0" y="399.8" width="28" height="17" rx="2" fill="#780200"/><rect x="272.2" y="399.8" width="28" height="17" rx="2" fill="#780200"/><rect x="317.6" y="399.8" width="28" height="17" rx="2" fill="#780200"/><rect x="362.9" y="399.8" width="28" height="17" rx="2" fill="#780200"/><rect x="408.2" y="399.8" width="28" height="17" rx="2" fill="#780200"/><rect x="453.5" y="399.8" width="28" height="17" rx="2" fill="#780200"/><rect x="498.8" y="399.8" width="28" height="17" rx="2" fill="#780200"/><rect x="210.4" y="448.5" width="238" height="20" fill="#8a2000" opacity="0.55"/><rect x="181.7" y="450.0" width="28" height="17" rx="2" fill="#780200"/><rect x="227.0" y="450.0" width="28" height="17" rx="2" fill="#780200"/><rect x="272.2" y="450.0" width="28" height="17" rx="2" fill="#780200"/><rect x="317.6" y="450.0" width="28" height="17" rx="2" fill="#780200"/><rect x="362.9" y="450.0" width="28" height="17" rx="2" fill="#780200"/><rect x="408.2" y="450.0" width="28" height="17" rx="2" fill="#780200"/><rect x="453.5" y="450.0" width="28" height="17" rx="2" fill="#780200"/><rect x="498.8" y="450.0" width="28" height="17" rx="2" fill="#780200"/></g><g filter="url(#f2)"><ellipse cx="173.0" cy="206.0" rx="7" ry="11" fill="#aca400"/><ellipse cx="173.0" cy="210.0" rx="8" ry="7" fill="#aca400"/><ellipse cx="218.3" cy="206.0" rx="7" ry="11" fill="#aca400"/><ellipse cx="218.3" cy="210.0" rx="8" ry="7" fill="#aca400"/><ellipse cx="263.6" cy="206.0" rx="7" ry="11" fill="#aca400"/><ellipse cx="263.6" cy="210.0" rx="8" ry="7" fill="#aca400"/><ellipse cx="308.9" cy="206.0" rx="7" ry="11" fill="#aca400"/><ellipse cx="308.9" cy="210.0" rx="8" ry="7" fill="#aca400"/><ellipse cx="354.2" cy="206.0" rx="7" ry="11" fill="#aca400"/><ellipse cx="354.2" cy="210.0" rx="8" ry="7" fill="#aca400"/><ellipse cx="399.5" cy="206.0" rx="7" ry="11" fill="#aca400"/><ellipse cx="399.5" cy="210.0" rx="8" ry="7" fill="#aca400"/><ellipse cx="444.8" cy="206.0" rx="7" ry="11" fill="#aca400"/><ellipse cx="444.8" cy="210.0" rx="8" ry="7" fill="#aca400"/><ellipse cx="490.1" cy="206.0" rx="7" ry="11" fill="#aca400"/><ellipse cx="490.1" cy="210.0" rx="8" ry="7" fill="#aca400"/><ellipse cx="173.0" cy="256.5" rx="7" ry="11" fill="#aca400"/><ellipse cx="173.0" cy="260.5" rx="8" ry="7" fill="#aca400"/><ellipse cx="218.3" cy="256.5" rx="7" ry="11" fill="#aca400"/><ellipse cx="218.3" cy="260.5" rx="8" ry="7" fill="#aca400"/><ellipse cx="263.6" cy="256.5" rx="7" ry="11" fill="#aca400"/><ellipse cx="263.6" cy="260.5" rx="8" ry="7" fill="#aca400"/><ellipse cx="308.9" cy="256.5" rx="7" ry="11" fill="#aca400"/><ellipse cx="308.9" cy="260.5" rx="8" ry="7" fill="#aca400"/><ellipse cx="354.2" cy="256.5" rx="7" ry="11" fill="#aca400"/><ellipse cx="354.2" cy="260.5" rx="8" ry="7" fill="#aca400"/><ellipse cx="399.5" cy="256.5" rx="7" ry="11" fill="#aca400"/><ellipse cx="399.5" cy="260.5" rx="8" ry="7" fill="#aca400"/><ellipse cx="444.8" cy="256.5" rx="7" ry="11" fill="#aca400"/><ellipse cx="444.8" cy="260.5" rx="8" ry="7" fill="#aca400"/><ellipse cx="490.1" cy="256.5" rx="7" ry="11" fill="#aca400"/><ellipse cx="490.1" cy="260.5" rx="8" ry="7" fill="#aca400"/><ellipse cx="173.0" cy="307.7" rx="7" ry="11" fill="#aca400"/><ellipse cx="173.0" cy="311.7" rx="8" ry="7" fill="#aca400"/><ellipse cx="218.3" cy="307.7" rx="7" ry="11" fill="#aca400"/><ellipse cx="218.3" cy="311.7" rx="8" ry="7" fill="#aca400"/><ellipse cx="263.6" cy="307.7" rx="7" ry="11" fill="#aca400"/><ellipse cx="263.6" cy="311.7" rx="8" ry="7" fill="#aca400"/><ellipse cx="308.9" cy="307.7" rx="7" ry="11" fill="#aca400"/><ellipse cx="308.9" cy="311.7" rx="8" ry="7" fill="#aca400"/><ellipse cx="354.2" cy="307.7" rx="7" ry="11" fill="#aca400"/><ellipse cx="354.2" cy="311.7" rx="8" ry="7" fill="#aca400"/><ellipse cx="399.5" cy="307.7" rx="7" ry="11" fill="#aca400"/><ellipse cx="399.5" cy="311.7" rx="8" ry="7" fill="#aca400"/><ellipse cx="444.8" cy="307.7" rx="7" ry="11" fill="#aca400"/><ellipse cx="444.8" cy="311.7" rx="8" ry="7" fill="#aca400"/><ellipse cx="490.1" cy="307.7" rx="7" ry="11" fill="#aca400"/><ellipse cx="490.1" cy="311.7" rx="8" ry="7" fill="#aca400"/><ellipse cx="173.0" cy="358.8" rx="7" ry="11" fill="#aca400"/><ellipse cx="173.0" cy="362.8" rx="8" ry="7" fill="#aca400"/><ellipse cx="218.3" cy="358.8" rx="7" ry="11" fill="#aca400"/><ellipse cx="218.3" cy="362.8" rx="8" ry="7" fill="#aca400"/><ellipse cx="263.6" cy="358.8" rx="7" ry="11" fill="#aca400"/><ellipse cx="263.6" cy="362.8" rx="8" ry="7" fill="#aca400"/><ellipse cx="308.9" cy="358.8" rx="7" ry="11" fill="#aca400"/><ellipse cx="308.9" cy="362.8" rx="8" ry="7" fill="#aca400"/><ellipse cx="354.2" cy="358.8" rx="7" ry="11" fill="#aca400"/><ellipse cx="354.2" cy="362.8" rx="8" ry="7" fill="#aca400"/><ellipse cx="399.5" cy="358.8" rx="7" ry="11" fill="#aca400"/><ellipse cx="399.5" cy="362.8" rx="8" ry="7" fill="#aca400"/><ellipse cx="444.8" cy="358.8" rx="7" ry="11" fill="#aca400"/><ellipse cx="444.8" cy="362.8" rx="8" ry="7" fill="#aca400"/><ellipse cx="490.1" cy="358.8" rx="7" ry="11" fill="#aca400"/><ellipse cx="490.1" cy="362.8" rx="8" ry="7" fill="#aca400"/><ellipse cx="173.0" cy="407.3" rx="7" ry="11" fill="#aca400"/><ellipse cx="173.0" cy="411.3" rx="8" ry="7" fill="#aca400"/><ellipse cx="218.3" cy="407.3" rx="7" ry="11" fill="#aca400"/><ellipse cx="218.3" cy="411.3" rx="8" ry="7" fill="#aca400"/><ellipse cx="263.6" cy="407.3" rx="7" ry="11" fill="#aca400"/><ellipse cx="263.6" cy="411.3" rx="8" ry="7" fill="#aca400"/><ellipse cx="308.9" cy="407.3" rx="7" ry="11" fill="#aca400"/><ellipse cx="308.9" cy="411.3" rx="8" ry="7" fill="#aca400"/><ellipse cx="354.2" cy="407.3" rx="7" ry="11" fill="#aca400"/><ellipse cx="354.2" cy="411.3" rx="8" ry="7" fill="#aca400"/><ellipse cx="399.5" cy="407.3" rx="7" ry="11" fill="#aca400"/><ellipse cx="399.5" cy="411.3" rx="8" ry="7" fill="#aca400"/><ellipse cx="444.8" cy="407.3" rx="7" ry="11" fill="#aca400"/><ellipse cx="444.8" cy="411.3" rx="8" ry="7" fill="#aca400"/><ellipse cx="490.1" cy="407.3" rx="7" ry="11" fill="#aca400"/><ellipse cx="490.1" cy="411.3" rx="8" ry="7" fill="#aca400"/><ellipse cx="173.0" cy="457.5" rx="7" ry="11" fill="#aca400"/><ellipse cx="173.0" cy="461.5" rx="8" ry="7" fill="#aca400"/><ellipse cx="218.3" cy="457.5" rx="7" ry="11" fill="#aca400"/><ellipse cx="218.3" cy="461.5" rx="8" ry="7" fill="#aca400"/><ellipse cx="263.6" cy="457.5" rx="7" ry="11" fill="#aca400"/><ellipse cx="263.6" cy="461.5" rx="8" ry="7" fill="#aca400"/><ellipse cx="308.9" cy="457.5" rx="7" ry="11" fill="#aca400"/><ellipse cx="308.9" cy="461.5" rx="8" ry="7" fill="#aca400"/><ellipse cx="354.2" cy="457.5" rx="7" ry="11" fill="#aca400"/><ellipse cx="354.2" cy="461.5" rx="8" ry="7" fill="#aca400"/><ellipse cx="399.5" cy="457.5" rx="7" ry="11" fill="#aca400"/><ellipse cx="399.5" cy="461.5" rx="8" ry="7" fill="#aca400"/><ellipse cx="444.8" cy="457.5" rx="7" ry="11" fill="#aca400"/><ellipse cx="444.8" cy="461.5" rx="8" ry="7" fill="#aca400"/><ellipse cx="490.1" cy="457.5" rx="7" ry="11" fill="#aca400"/><ellipse cx="490.1" cy="461.5" rx="8" ry="7" fill="#aca400"/></g></g>
<g clip-path="url(#cd)"><g filter="url(#f2)"><rect x="-7" y="406" width="237.7" height="226.5" fill="#986600"/><rect x="-57.1" y="406" width="10" height="226.5" fill="#b8a000" opacity="0.3"/><rect x="-14.4" y="406" width="10" height="226.5" fill="#b8a000" opacity="0.3"/><rect x="28.2" y="406" width="10" height="226.5" fill="#b8a000" opacity="0.3"/><rect x="70.8" y="406" width="10" height="226.5" fill="#b8a000" opacity="0.3"/><rect x="113.5" y="406" width="10" height="226.5" fill="#b8a000" opacity="0.3"/><rect x="156.2" y="406" width="10" height="226.5" fill="#b8a000" opacity="0.3"/><rect x="198.8" y="406" width="10" height="226.5" fill="#b8a000" opacity="0.3"/><rect x="241.5" y="406" width="10" height="226.5" fill="#b8a000" opacity="0.3"/><rect x="284.1" y="406" width="10" height="226.5" fill="#b8a000" opacity="0.3"/><rect x="-7" y="369.6" width="237.7" height="22" fill="#8a2400" opacity="0.5"/><rect x="-43.3" y="369.1" width="25" height="23" rx="2" fill="#760000"/><rect x="-0.6" y="369.1" width="25" height="23" rx="2" fill="#760000"/><rect x="42.0" y="369.1" width="25" height="23" rx="2" fill="#760000"/><rect x="84.6" y="369.1" width="25" height="23" rx="2" fill="#760000"/><rect x="127.3" y="369.1" width="25" height="23" rx="2" fill="#760000"/><rect x="170.0" y="369.1" width="25" height="23" rx="2" fill="#760000"/><rect x="212.6" y="369.1" width="25" height="23" rx="2" fill="#760000"/><rect x="255.2" y="369.1" width="25" height="23" rx="2" fill="#760000"/><rect x="297.9" y="369.1" width="25" height="23" rx="2" fill="#760000"/><rect x="-7" y="426.6" width="237.7" height="22" fill="#8a2400" opacity="0.5"/><rect x="-43.3" y="426.1" width="25" height="23" rx="2" fill="#760000"/><rect x="-0.6" y="426.1" width="25" height="23" rx="2" fill="#760000"/><rect x="42.0" y="426.1" width="25" height="23" rx="2" fill="#760000"/><rect x="84.6" y="426.1" width="25" height="23" rx="2" fill="#760000"/><rect x="127.3" y="426.1" width="25" height="23" rx="2" fill="#760000"/><rect x="170.0" y="426.1" width="25" height="23" rx="2" fill="#760000"/><rect x="212.6" y="426.1" width="25" height="23" rx="2" fill="#760000"/><rect x="255.2" y="426.1" width="25" height="23" rx="2" fill="#760000"/><rect x="297.9" y="426.1" width="25" height="23" rx="2" fill="#760000"/><rect x="-7" y="483.8" width="237.7" height="22" fill="#8a2400" opacity="0.5"/><rect x="-43.3" y="483.3" width="25" height="23" rx="2" fill="#760000"/><rect x="-0.6" y="483.3" width="25" height="23" rx="2" fill="#760000"/><rect x="42.0" y="483.3" width="25" height="23" rx="2" fill="#760000"/><rect x="84.6" y="483.3" width="25" height="23" rx="2" fill="#760000"/><rect x="127.3" y="483.3" width="25" height="23" rx="2" fill="#760000"/><rect x="170.0" y="483.3" width="25" height="23" rx="2" fill="#760000"/><rect x="212.6" y="483.3" width="25" height="23" rx="2" fill="#760000"/><rect x="255.2" y="483.3" width="25" height="23" rx="2" fill="#760000"/><rect x="297.9" y="483.3" width="25" height="23" rx="2" fill="#760000"/><rect x="-7" y="542.5" width="237.7" height="22" fill="#8a2400" opacity="0.5"/><rect x="-43.3" y="542.0" width="25" height="23" rx="2" fill="#760000"/><rect x="-0.6" y="542.0" width="25" height="23" rx="2" fill="#760000"/><rect x="42.0" y="542.0" width="25" height="23" rx="2" fill="#760000"/><rect x="84.6" y="542.0" width="25" height="23" rx="2" fill="#760000"/><rect x="127.3" y="542.0" width="25" height="23" rx="2" fill="#760000"/><rect x="170.0" y="542.0" width="25" height="23" rx="2" fill="#760000"/><rect x="212.6" y="542.0" width="25" height="23" rx="2" fill="#760000"/><rect x="255.2" y="542.0" width="25" height="23" rx="2" fill="#760000"/><rect x="297.9" y="542.0" width="25" height="23" rx="2" fill="#760000"/><rect x="-7" y="598.0" width="237.7" height="22" fill="#8a2400" opacity="0.5"/><rect x="-43.3" y="597.5" width="25" height="23" rx="2" fill="#760000"/><rect x="-0.6" y="597.5" width="25" height="23" rx="2" fill="#760000"/><rect x="42.0" y="597.5" width="25" height="23" rx="2" fill="#760000"/><rect x="84.6" y="597.5" width="25" height="23" rx="2" fill="#760000"/><rect x="127.3" y="597.5" width="25" height="23" rx="2" fill="#760000"/><rect x="170.0" y="597.5" width="25" height="23" rx="2" fill="#760000"/><rect x="212.6" y="597.5" width="25" height="23" rx="2" fill="#760000"/><rect x="255.2" y="597.5" width="25" height="23" rx="2" fill="#760000"/><rect x="297.9" y="597.5" width="25" height="23" rx="2" fill="#760000"/><rect x="-7" y="655.0" width="237.7" height="22" fill="#8a2400" opacity="0.5"/><rect x="-43.3" y="654.5" width="25" height="23" rx="2" fill="#760000"/><rect x="-0.6" y="654.5" width="25" height="23" rx="2" fill="#760000"/><rect x="42.0" y="654.5" width="25" height="23" rx="2" fill="#760000"/><rect x="84.6" y="654.5" width="25" height="23" rx="2" fill="#760000"/><rect x="127.3" y="654.5" width="25" height="23" rx="2" fill="#760000"/><rect x="170.0" y="654.5" width="25" height="23" rx="2" fill="#760000"/><rect x="212.6" y="654.5" width="25" height="23" rx="2" fill="#760000"/><rect x="255.2" y="654.5" width="25" height="23" rx="2" fill="#760000"/><rect x="297.9" y="654.5" width="25" height="23" rx="2" fill="#760000"/></g><g filter="url(#f2)"><ellipse cx="-52.1" cy="380.6" rx="7.5" ry="16.5" fill="#a89f00"/><ellipse cx="-9.4" cy="380.6" rx="7.5" ry="16.5" fill="#a89f00"/><ellipse cx="33.2" cy="380.6" rx="7.5" ry="16.5" fill="#a89f00"/><ellipse cx="75.8" cy="380.6" rx="7.5" ry="16.5" fill="#a89f00"/><ellipse cx="118.5" cy="380.6" rx="7.5" ry="16.5" fill="#a89f00"/><ellipse cx="161.2" cy="380.6" rx="7.5" ry="16.5" fill="#a89f00"/><ellipse cx="203.8" cy="380.6" rx="7.5" ry="16.5" fill="#a89f00"/><ellipse cx="246.5" cy="380.6" rx="7.5" ry="16.5" fill="#a89f00"/><ellipse cx="289.1" cy="380.6" rx="7.5" ry="16.5" fill="#a89f00"/><ellipse cx="-52.1" cy="437.6" rx="7.5" ry="16.5" fill="#a89f00"/><ellipse cx="-9.4" cy="437.6" rx="7.5" ry="16.5" fill="#a89f00"/><ellipse cx="33.2" cy="437.6" rx="7.5" ry="16.5" fill="#a89f00"/><ellipse cx="75.8" cy="437.6" rx="7.5" ry="16.5" fill="#a89f00"/><ellipse cx="118.5" cy="437.6" rx="7.5" ry="16.5" fill="#a89f00"/><ellipse cx="161.2" cy="437.6" rx="7.5" ry="16.5" fill="#a89f00"/><ellipse cx="203.8" cy="437.6" rx="7.5" ry="16.5" fill="#a89f00"/><ellipse cx="246.5" cy="437.6" rx="7.5" ry="16.5" fill="#a89f00"/><ellipse cx="289.1" cy="437.6" rx="7.5" ry="16.5" fill="#a89f00"/><ellipse cx="-52.1" cy="494.8" rx="7.5" ry="16.5" fill="#a89f00"/><ellipse cx="-9.4" cy="494.8" rx="7.5" ry="16.5" fill="#a89f00"/><ellipse cx="33.2" cy="494.8" rx="7.5" ry="16.5" fill="#a89f00"/><ellipse cx="75.8" cy="494.8" rx="7.5" ry="16.5" fill="#a89f00"/><ellipse cx="118.5" cy="494.8" rx="7.5" ry="16.5" fill="#a89f00"/><ellipse cx="161.2" cy="494.8" rx="7.5" ry="16.5" fill="#a89f00"/><ellipse cx="203.8" cy="494.8" rx="7.5" ry="16.5" fill="#a89f00"/><ellipse cx="246.5" cy="494.8" rx="7.5" ry="16.5" fill="#a89f00"/><ellipse cx="289.1" cy="494.8" rx="7.5" ry="16.5" fill="#a89f00"/><ellipse cx="-52.1" cy="553.5" rx="7.5" ry="16.5" fill="#a89f00"/><ellipse cx="-9.4" cy="553.5" rx="7.5" ry="16.5" fill="#a89f00"/><ellipse cx="33.2" cy="553.5" rx="7.5" ry="16.5" fill="#a89f00"/><ellipse cx="75.8" cy="553.5" rx="7.5" ry="16.5" fill="#a89f00"/><ellipse cx="118.5" cy="553.5" rx="7.5" ry="16.5" fill="#a89f00"/><ellipse cx="161.2" cy="553.5" rx="7.5" ry="16.5" fill="#a89f00"/><ellipse cx="203.8" cy="553.5" rx="7.5" ry="16.5" fill="#a89f00"/><ellipse cx="246.5" cy="553.5" rx="7.5" ry="16.5" fill="#a89f00"/><ellipse cx="289.1" cy="553.5" rx="7.5" ry="16.5" fill="#a89f00"/><ellipse cx="-52.1" cy="609.0" rx="7.5" ry="16.5" fill="#a89f00"/><ellipse cx="-9.4" cy="609.0" rx="7.5" ry="16.5" fill="#a89f00"/><ellipse cx="33.2" cy="609.0" rx="7.5" ry="16.5" fill="#a89f00"/><ellipse cx="75.8" cy="609.0" rx="7.5" ry="16.5" fill="#a89f00"/><ellipse cx="118.5" cy="609.0" rx="7.5" ry="16.5" fill="#a89f00"/><ellipse cx="161.2" cy="609.0" rx="7.5" ry="16.5" fill="#a89f00"/><ellipse cx="203.8" cy="609.0" rx="7.5" ry="16.5" fill="#a89f00"/><ellipse cx="246.5" cy="609.0" rx="7.5" ry="16.5" fill="#a89f00"/><ellipse cx="289.1" cy="609.0" rx="7.5" ry="16.5" fill="#a89f00"/><ellipse cx="-52.1" cy="666.0" rx="7.5" ry="16.5" fill="#a89f00"/><ellipse cx="-9.4" cy="666.0" rx="7.5" ry="16.5" fill="#a89f00"/><ellipse cx="33.2" cy="666.0" rx="7.5" ry="16.5" fill="#a89f00"/><ellipse cx="75.8" cy="666.0" rx="7.5" ry="16.5" fill="#a89f00"/><ellipse cx="118.5" cy="666.0" rx="7.5" ry="16.5" fill="#a89f00"/><ellipse cx="161.2" cy="666.0" rx="7.5" ry="16.5" fill="#a89f00"/><ellipse cx="203.8" cy="666.0" rx="7.5" ry="16.5" fill="#a89f00"/><ellipse cx="246.5" cy="666.0" rx="7.5" ry="16.5" fill="#a89f00"/><ellipse cx="289.1" cy="666.0" rx="7.5" ry="16.5" fill="#a89f00"/></g></g>
<g clip-path="url(#ce)"><g filter="url(#f15)"><rect x="212" y="408" width="235.6" height="224" fill="#9c7200"/><rect x="168.7" y="408" width="4.6" height="224" fill="#b8a400" opacity="0.2"/><rect x="177.7" y="408" width="4.6" height="224" fill="#b8a400" opacity="0.2"/><rect x="212.0" y="408" width="4.6" height="224" fill="#b8a400" opacity="0.2"/><rect x="221.0" y="408" width="4.6" height="224" fill="#b8a400" opacity="0.2"/><rect x="255.2" y="408" width="4.6" height="224" fill="#b8a400" opacity="0.2"/><rect x="264.2" y="408" width="4.6" height="224" fill="#b8a400" opacity="0.2"/><rect x="298.6" y="408" width="4.6" height="224" fill="#b8a400" opacity="0.2"/><rect x="307.6" y="408" width="4.6" height="224" fill="#b8a400" opacity="0.2"/><rect x="341.9" y="408" width="4.6" height="224" fill="#b8a400" opacity="0.2"/><rect x="350.9" y="408" width="4.6" height="224" fill="#b8a400" opacity="0.2"/><rect x="385.2" y="408" width="4.6" height="224" fill="#b8a400" opacity="0.2"/><rect x="394.2" y="408" width="4.6" height="224" fill="#b8a400" opacity="0.2"/><rect x="428.5" y="408" width="4.6" height="224" fill="#b8a400" opacity="0.2"/><rect x="437.5" y="408" width="4.6" height="224" fill="#b8a400" opacity="0.2"/><rect x="471.8" y="408" width="4.6" height="224" fill="#b8a400" opacity="0.2"/><rect x="480.8" y="408" width="4.6" height="224" fill="#b8a400" opacity="0.2"/><rect x="515.1" y="408" width="4.6" height="224" fill="#b8a400" opacity="0.2"/><rect x="524.1" y="408" width="4.6" height="224" fill="#b8a400" opacity="0.2"/></g><g filter="url(#f15)"><rect x="142.1" y="409.0" width="23.4" height="19" fill="#7c0000"/><rect x="168.6" y="407.0" width="4.8" height="23" rx="2.4" fill="#aca000"/><rect x="177.6" y="407.0" width="4.8" height="23" rx="2.4" fill="#aca000"/><rect x="185.4" y="409.0" width="23.4" height="19" fill="#7c0000"/><rect x="211.9" y="407.0" width="4.8" height="23" rx="2.4" fill="#aca000"/><rect x="220.9" y="407.0" width="4.8" height="23" rx="2.4" fill="#aca000"/><rect x="228.7" y="409.0" width="23.4" height="19" fill="#7c0000"/><rect x="255.2" y="407.0" width="4.8" height="23" rx="2.4" fill="#aca000"/><rect x="264.2" y="407.0" width="4.8" height="23" rx="2.4" fill="#aca000"/><rect x="272.0" y="409.0" width="23.4" height="19" fill="#7c0000"/><rect x="298.5" y="407.0" width="4.8" height="23" rx="2.4" fill="#aca000"/><rect x="307.5" y="407.0" width="4.8" height="23" rx="2.4" fill="#aca000"/><rect x="315.3" y="409.0" width="23.4" height="19" fill="#7c0000"/><rect x="341.8" y="407.0" width="4.8" height="23" rx="2.4" fill="#aca000"/><rect x="350.8" y="407.0" width="4.8" height="23" rx="2.4" fill="#aca000"/><rect x="358.6" y="409.0" width="23.4" height="19" fill="#7c0000"/><rect x="385.1" y="407.0" width="4.8" height="23" rx="2.4" fill="#aca000"/><rect x="394.1" y="407.0" width="4.8" height="23" rx="2.4" fill="#aca000"/><rect x="401.9" y="409.0" width="23.4" height="19" fill="#7c0000"/><rect x="428.4" y="407.0" width="4.8" height="23" rx="2.4" fill="#aca000"/><rect x="437.4" y="407.0" width="4.8" height="23" rx="2.4" fill="#aca000"/><rect x="445.2" y="409.0" width="23.4" height="19" fill="#7c0000"/><rect x="471.7" y="407.0" width="4.8" height="23" rx="2.4" fill="#aca000"/><rect x="480.7" y="407.0" width="4.8" height="23" rx="2.4" fill="#aca000"/><rect x="488.5" y="409.0" width="23.4" height="19" fill="#7c0000"/><rect x="515.0" y="407.0" width="4.8" height="23" rx="2.4" fill="#aca000"/><rect x="524.0" y="407.0" width="4.8" height="23" rx="2.4" fill="#aca000"/><rect x="142.1" y="455.0" width="23.4" height="19" fill="#7c0000"/><rect x="168.6" y="453.0" width="4.8" height="23" rx="2.4" fill="#aca000"/><rect x="177.6" y="453.0" width="4.8" height="23" rx="2.4" fill="#aca000"/><rect x="185.4" y="455.0" width="23.4" height="19" fill="#7c0000"/><rect x="211.9" y="453.0" width="4.8" height="23" rx="2.4" fill="#aca000"/><rect x="220.9" y="453.0" width="4.8" height="23" rx="2.4" fill="#aca000"/><rect x="228.7" y="455.0" width="23.4" height="19" fill="#7c0000"/><rect x="255.2" y="453.0" width="4.8" height="23" rx="2.4" fill="#aca000"/><rect x="264.2" y="453.0" width="4.8" height="23" rx="2.4" fill="#aca000"/><rect x="272.0" y="455.0" width="23.4" height="19" fill="#7c0000"/><rect x="298.5" y="453.0" width="4.8" height="23" rx="2.4" fill="#aca000"/><rect x="307.5" y="453.0" width="4.8" height="23" rx="2.4" fill="#aca000"/><rect x="315.3" y="455.0" width="23.4" height="19" fill="#7c0000"/><rect x="341.8" y="453.0" width="4.8" height="23" rx="2.4" fill="#aca000"/><rect x="350.8" y="453.0" width="4.8" height="23" rx="2.4" fill="#aca000"/><rect x="358.6" y="455.0" width="23.4" height="19" fill="#7c0000"/><rect x="385.1" y="453.0" width="4.8" height="23" rx="2.4" fill="#aca000"/><rect x="394.1" y="453.0" width="4.8" height="23" rx="2.4" fill="#aca000"/><rect x="401.9" y="455.0" width="23.4" height="19" fill="#7c0000"/><rect x="428.4" y="453.0" width="4.8" height="23" rx="2.4" fill="#aca000"/><rect x="437.4" y="453.0" width="4.8" height="23" rx="2.4" fill="#aca000"/><rect x="445.2" y="455.0" width="23.4" height="19" fill="#7c0000"/><rect x="471.7" y="453.0" width="4.8" height="23" rx="2.4" fill="#aca000"/><rect x="480.7" y="453.0" width="4.8" height="23" rx="2.4" fill="#aca000"/><rect x="488.5" y="455.0" width="23.4" height="19" fill="#7c0000"/><rect x="515.0" y="453.0" width="4.8" height="23" rx="2.4" fill="#aca000"/><rect x="524.0" y="453.0" width="4.8" height="23" rx="2.4" fill="#aca000"/><rect x="142.1" y="502.0" width="23.4" height="19" fill="#7c0000"/><rect x="168.6" y="500.0" width="4.8" height="23" rx="2.4" fill="#aca000"/><rect x="177.6" y="500.0" width="4.8" height="23" rx="2.4" fill="#aca000"/><rect x="185.4" y="502.0" width="23.4" height="19" fill="#7c0000"/><rect x="211.9" y="500.0" width="4.8" height="23" rx="2.4" fill="#aca000"/><rect x="220.9" y="500.0" width="4.8" height="23" rx="2.4" fill="#aca000"/><rect x="228.7" y="502.0" width="23.4" height="19" fill="#7c0000"/><rect x="255.2" y="500.0" width="4.8" height="23" rx="2.4" fill="#aca000"/><rect x="264.2" y="500.0" width="4.8" height="23" rx="2.4" fill="#aca000"/><rect x="272.0" y="502.0" width="23.4" height="19" fill="#7c0000"/><rect x="298.5" y="500.0" width="4.8" height="23" rx="2.4" fill="#aca000"/><rect x="307.5" y="500.0" width="4.8" height="23" rx="2.4" fill="#aca000"/><rect x="315.3" y="502.0" width="23.4" height="19" fill="#7c0000"/><rect x="341.8" y="500.0" width="4.8" height="23" rx="2.4" fill="#aca000"/><rect x="350.8" y="500.0" width="4.8" height="23" rx="2.4" fill="#aca000"/><rect x="358.6" y="502.0" width="23.4" height="19" fill="#7c0000"/><rect x="385.1" y="500.0" width="4.8" height="23" rx="2.4" fill="#aca000"/><rect x="394.1" y="500.0" width="4.8" height="23" rx="2.4" fill="#aca000"/><rect x="401.9" y="502.0" width="23.4" height="19" fill="#7c0000"/><rect x="428.4" y="500.0" width="4.8" height="23" rx="2.4" fill="#aca000"/><rect x="437.4" y="500.0" width="4.8" height="23" rx="2.4" fill="#aca000"/><rect x="445.2" y="502.0" width="23.4" height="19" fill="#7c0000"/><rect x="471.7" y="500.0" width="4.8" height="23" rx="2.4" fill="#aca000"/><rect x="480.7" y="500.0" width="4.8" height="23" rx="2.4" fill="#aca000"/><rect x="488.5" y="502.0" width="23.4" height="19" fill="#7c0000"/><rect x="515.0" y="500.0" width="4.8" height="23" rx="2.4" fill="#aca000"/><rect x="524.0" y="500.0" width="4.8" height="23" rx="2.4" fill="#aca000"/><rect x="142.1" y="548.9" width="23.4" height="19" fill="#7c0000"/><rect x="168.6" y="546.9" width="4.8" height="23" rx="2.4" fill="#aca000"/><rect x="177.6" y="546.9" width="4.8" height="23" rx="2.4" fill="#aca000"/><rect x="185.4" y="548.9" width="23.4" height="19" fill="#7c0000"/><rect x="211.9" y="546.9" width="4.8" height="23" rx="2.4" fill="#aca000"/><rect x="220.9" y="546.9" width="4.8" height="23" rx="2.4" fill="#aca000"/><rect x="228.7" y="548.9" width="23.4" height="19" fill="#7c0000"/><rect x="255.2" y="546.9" width="4.8" height="23" rx="2.4" fill="#aca000"/><rect x="264.2" y="546.9" width="4.8" height="23" rx="2.4" fill="#aca000"/><rect x="272.0" y="548.9" width="23.4" height="19" fill="#7c0000"/><rect x="298.5" y="546.9" width="4.8" height="23" rx="2.4" fill="#aca000"/><rect x="307.5" y="546.9" width="4.8" height="23" rx="2.4" fill="#aca000"/><rect x="315.3" y="548.9" width="23.4" height="19" fill="#7c0000"/><rect x="341.8" y="546.9" width="4.8" height="23" rx="2.4" fill="#aca000"/><rect x="350.8" y="546.9" width="4.8" height="23" rx="2.4" fill="#aca000"/><rect x="358.6" y="548.9" width="23.4" height="19" fill="#7c0000"/><rect x="385.1" y="546.9" width="4.8" height="23" rx="2.4" fill="#aca000"/><rect x="394.1" y="546.9" width="4.8" height="23" rx="2.4" fill="#aca000"/><rect x="401.9" y="548.9" width="23.4" height="19" fill="#7c0000"/><rect x="428.4" y="546.9" width="4.8" height="23" rx="2.4" fill="#aca000"/><rect x="437.4" y="546.9" width="4.8" height="23" rx="2.4" fill="#aca000"/><rect x="445.2" y="548.9" width="23.4" height="19" fill="#7c0000"/><rect x="471.7" y="546.9" width="4.8" height="23" rx="2.4" fill="#aca000"/><rect x="480.7" y="546.9" width="4.8" height="23" rx="2.4" fill="#aca000"/><rect x="488.5" y="548.9" width="23.4" height="19" fill="#7c0000"/><rect x="515.0" y="546.9" width="4.8" height="23" rx="2.4" fill="#aca000"/><rect x="524.0" y="546.9" width="4.8" height="23" rx="2.4" fill="#aca000"/><rect x="142.1" y="595.1" width="23.4" height="19" fill="#7c0000"/><rect x="168.6" y="593.1" width="4.8" height="23" rx="2.4" fill="#aca000"/><rect x="177.6" y="593.1" width="4.8" height="23" rx="2.4" fill="#aca000"/><rect x="185.4" y="595.1" width="23.4" height="19" fill="#7c0000"/><rect x="211.9" y="593.1" width="4.8" height="23" rx="2.4" fill="#aca000"/><rect x="220.9" y="593.1" width="4.8" height="23" rx="2.4" fill="#aca000"/><rect x="228.7" y="595.1" width="23.4" height="19" fill="#7c0000"/><rect x="255.2" y="593.1" width="4.8" height="23" rx="2.4" fill="#aca000"/><rect x="264.2" y="593.1" width="4.8" height="23" rx="2.4" fill="#aca000"/><rect x="272.0" y="595.1" width="23.4" height="19" fill="#7c0000"/><rect x="298.5" y="593.1" width="4.8" height="23" rx="2.4" fill="#aca000"/><rect x="307.5" y="593.1" width="4.8" height="23" rx="2.4" fill="#aca000"/><rect x="315.3" y="595.1" width="23.4" height="19" fill="#7c0000"/><rect x="341.8" y="593.1" width="4.8" height="23" rx="2.4" fill="#aca000"/><rect x="350.8" y="593.1" width="4.8" height="23" rx="2.4" fill="#aca000"/><rect x="358.6" y="595.1" width="23.4" height="19" fill="#7c0000"/><rect x="385.1" y="593.1" width="4.8" height="23" rx="2.4" fill="#aca000"/><rect x="394.1" y="593.1" width="4.8" height="23" rx="2.4" fill="#aca000"/><rect x="401.9" y="595.1" width="23.4" height="19" fill="#7c0000"/><rect x="428.4" y="593.1" width="4.8" height="23" rx="2.4" fill="#aca000"/><rect x="437.4" y="593.1" width="4.8" height="23" rx="2.4" fill="#aca000"/><rect x="445.2" y="595.1" width="23.4" height="19" fill="#7c0000"/><rect x="471.7" y="593.1" width="4.8" height="23" rx="2.4" fill="#aca000"/><rect x="480.7" y="593.1" width="4.8" height="23" rx="2.4" fill="#aca000"/><rect x="488.5" y="595.1" width="23.4" height="19" fill="#7c0000"/><rect x="515.0" y="593.1" width="4.8" height="23" rx="2.4" fill="#aca000"/><rect x="524.0" y="593.1" width="4.8" height="23" rx="2.4" fill="#aca000"/><rect x="142.1" y="641.5" width="23.4" height="19" fill="#7c0000"/><rect x="168.6" y="639.5" width="4.8" height="23" rx="2.4" fill="#aca000"/><rect x="177.6" y="639.5" width="4.8" height="23" rx="2.4" fill="#aca000"/><rect x="185.4" y="641.5" width="23.4" height="19" fill="#7c0000"/><rect x="211.9" y="639.5" width="4.8" height="23" rx="2.4" fill="#aca000"/><rect x="220.9" y="639.5" width="4.8" height="23" rx="2.4" fill="#aca000"/><rect x="228.7" y="641.5" width="23.4" height="19" fill="#7c0000"/><rect x="255.2" y="639.5" width="4.8" height="23" rx="2.4" fill="#aca000"/><rect x="264.2" y="639.5" width="4.8" height="23" rx="2.4" fill="#aca000"/><rect x="272.0" y="641.5" width="23.4" height="19" fill="#7c0000"/><rect x="298.5" y="639.5" width="4.8" height="23" rx="2.4" fill="#aca000"/><rect x="307.5" y="639.5" width="4.8" height="23" rx="2.4" fill="#aca000"/><rect x="315.3" y="641.5" width="23.4" height="19" fill="#7c0000"/><rect x="341.8" y="639.5" width="4.8" height="23" rx="2.4" fill="#aca000"/><rect x="350.8" y="639.5" width="4.8" height="23" rx="2.4" fill="#aca000"/><rect x="358.6" y="641.5" width="23.4" height="19" fill="#7c0000"/><rect x="385.1" y="639.5" width="4.8" height="23" rx="2.4" fill="#aca000"/><rect x="394.1" y="639.5" width="4.8" height="23" rx="2.4" fill="#aca000"/><rect x="401.9" y="641.5" width="23.4" height="19" fill="#7c0000"/><rect x="428.4" y="639.5" width="4.8" height="23" rx="2.4" fill="#aca000"/><rect x="437.4" y="639.5" width="4.8" height="23" rx="2.4" fill="#aca000"/><rect x="445.2" y="641.5" width="23.4" height="19" fill="#7c0000"/><rect x="471.7" y="639.5" width="4.8" height="23" rx="2.4" fill="#aca000"/><rect x="480.7" y="639.5" width="4.8" height="23" rx="2.4" fill="#aca000"/><rect x="488.5" y="641.5" width="23.4" height="19" fill="#7c0000"/><rect x="515.0" y="639.5" width="4.8" height="23" rx="2.4" fill="#aca000"/><rect x="524.0" y="639.5" width="4.8" height="23" rx="2.4" fill="#aca000"/></g></g>
<line x1="223.5" y1="209.8" x2="436.3" y2="209.8" stroke="#222" stroke-width="1"/>
<line x1="5" y1="620.2" x2="218.7" y2="620.2" stroke="#222" stroke-width="1"/>
<rect x="259.15" y="120.15" width="51.80" height="48.80" fill="none" stroke="#1414ee" stroke-width="2.5"/>
<rect x="30.15" y="296.05" width="51.80" height="49.80" fill="none" stroke="#1414ee" stroke-width="2.5"/>
<rect x="235.45" y="310.15" width="52.50" height="49.80" fill="none" stroke="#1414ee" stroke-width="2.5"/>
<rect x="51.35" y="498.85" width="49.50" height="52.50" fill="none" stroke="#1414ee" stroke-width="2.5"/>
<rect x="236.85" y="511.55" width="47.90" height="46.30" fill="none" stroke="#1414ee" stroke-width="2.5"/>
<line x1="228.4" y1="202.5" x2="277.1" y2="202.5" stroke="#fff" stroke-width="3"/>
<line x1="10" y1="409.5" x2="57" y2="409.5" stroke="#fff" stroke-width="3"/>
<line x1="228.4" y1="409.5" x2="275.4" y2="409.5" stroke="#fff" stroke-width="3"/>
<line x1="8.6" y1="611.4" x2="56.4" y2="611.4" stroke="#fff" stroke-width="3"/>
<line x1="230.4" y1="611.4" x2="278.3" y2="611.4" stroke="#fff" stroke-width="3"/>
<line x1="840.8" y1="112" x2="843.7" y2="465" stroke="#222" stroke-width="2" stroke-dasharray="2 2.07"/>
<line x1="902" y1="88.6" x2="907.6" y2="463" stroke="#111" stroke-width="2" stroke-dasharray="15.5 6.5"/>
<line x1="938.3" y1="48.3" x2="941.8" y2="465" stroke="#111" stroke-width="2.2" stroke-dasharray="8 6.4"/>
<g fill="none" stroke-width="6.8" stroke-linejoin="round" stroke-linecap="round">
<path d="M547.0,144.2C547.6,145.4 549.6,145.9 550.9,151.2C552.2,156.6 553.9,170.5 554.8,176.2C555.7,182.0 555.9,183.9 556.4,185.6C556.9,187.3 557.4,186.5 558.0,186.4C558.6,186.3 559.4,188.1 560.3,184.8C561.2,181.6 562.1,173.3 563.4,166.9C564.7,160.5 566.4,151.7 568.1,146.6C569.8,141.5 571.8,138.4 573.6,136.4C575.4,134.4 577.0,134.5 579.0,134.8C581.0,135.1 583.3,136.8 585.3,138.0C587.3,139.2 589.2,139.4 590.8,141.9C592.4,144.4 593.3,147.6 594.7,152.8C596.1,158.0 598.1,167.1 599.4,173.1C600.7,179.1 601.7,185.9 602.5,188.8C603.3,191.6 603.4,190.8 604.0,190.3C604.6,189.8 605.4,189.5 606.4,185.6C607.4,181.7 608.9,173.2 610.3,166.9C611.7,160.7 613.4,151.9 615.0,148.1C616.6,144.3 618.0,145.4 619.7,144.2C621.4,143.0 623.4,141.1 625.2,141.1C627.0,141.1 628.7,141.7 630.6,144.2C632.5,146.7 635.1,151.9 636.9,155.9C638.7,159.9 640.0,164.0 641.6,168.4C643.2,172.8 645.1,179.9 646.2,182.5C647.4,185.1 647.6,185.4 648.6,184.1C649.6,182.8 650.8,179.6 652.5,174.7C654.2,169.8 656.7,159.6 658.8,154.4C660.8,149.2 662.9,145.8 665.0,143.4C667.1,141.1 669.2,140.3 671.2,140.3C673.3,140.3 675.4,141.6 677.5,143.4C679.6,145.2 681.8,146.6 683.8,151.2C685.7,155.9 687.8,165.6 689.2,171.6C690.6,177.6 691.6,184.5 692.3,187.2C693.0,189.9 692.3,193.1 693.5,188.0C694.7,182.9 697.4,164.2 699.4,156.9C701.4,149.6 703.8,147.3 705.6,144.4C707.4,141.5 708.5,140.2 710.3,139.7C712.1,139.2 714.8,140.2 716.6,141.2C718.4,142.3 719.4,142.8 721.2,145.9C723.1,149.0 725.7,154.3 727.5,160.0C729.3,165.7 731.0,175.6 732.2,180.3C733.4,185.0 734.0,186.4 734.5,188.0C735.0,189.6 734.6,192.8 735.3,189.7C735.9,186.6 737.3,175.7 738.4,169.4C739.5,163.2 740.2,156.1 741.6,152.2C743.0,148.3 745.8,148.6 747.0,146.0C748.2,143.4 747.2,139.2 748.6,136.6C750.0,134.0 753.4,130.8 755.6,130.3C757.8,129.8 760.1,132.1 761.9,133.4C763.7,134.7 765.3,135.5 766.6,138.1C767.9,140.7 768.4,143.8 769.7,149.0C771.0,154.2 773.0,164.2 774.4,169.4C775.8,174.6 777.3,178.7 778.3,180.3C779.3,181.9 779.4,182.7 780.6,178.8C781.8,174.8 783.7,162.9 785.3,156.9C786.9,150.9 788.4,145.9 790.0,142.8C791.6,139.7 792.6,138.8 794.7,138.1C796.8,137.4 800.2,138.1 802.5,138.9C804.8,139.7 806.9,140.3 808.8,142.8C810.6,145.3 811.8,148.3 813.4,153.8C815.0,159.2 817.0,169.9 818.1,175.6C819.2,181.3 819.3,185.7 819.7,188.0C820.1,190.3 819.5,194.9 820.5,189.7C821.5,184.5 824.0,165.0 826.0,156.9C828.0,148.8 830.1,145.4 832.2,141.2C834.3,137.1 836.3,134.2 838.4,131.9C840.5,129.6 843.4,127.8 844.7,127.2C846.0,126.6 845.0,126.6 846.4,128.4C847.8,130.2 850.9,133.1 852.8,137.9C854.7,142.7 856.3,150.7 857.6,157.1C858.9,163.5 860.0,172.4 860.8,176.3C861.6,180.2 861.6,181.4 862.4,180.3C863.2,179.2 864.3,174.8 865.6,169.9C866.9,165.0 868.5,156.0 870.4,150.7C872.3,145.4 874.2,141.6 876.8,137.9C879.3,134.2 882.8,129.2 885.5,128.4C888.2,127.6 890.7,130.2 892.7,133.1C894.7,136.0 895.9,140.6 897.5,145.9C899.1,151.2 901.2,160.8 902.3,165.1C903.4,169.4 903.1,172.0 903.9,171.5C904.7,171.0 906.0,166.7 907.1,161.9C908.2,157.1 909.0,148.6 910.3,142.7C911.6,136.8 913.8,130.5 915.1,126.8C916.4,123.0 917.0,122.0 918.3,120.4C919.6,118.8 921.9,118.8 923.1,117.2C924.3,115.6 924.3,112.7 925.5,110.8C926.7,108.9 929.5,106.8 930.3,106.0" stroke="#ff0000"/>
<path d="M546.4,258.2C547.5,258.7 551.2,264.3 552.8,261.4C554.4,258.5 554.9,248.9 556.0,240.7C557.1,232.4 557.9,220.2 559.2,211.9C560.5,203.7 562.5,194.4 564.0,191.2C565.5,188.0 566.6,189.4 567.9,192.8C569.2,196.2 570.7,203.4 571.9,211.9C573.1,220.4 574.2,235.7 575.1,243.9C576.0,252.2 576.4,259.8 577.5,261.4C578.6,263.0 580.0,255.6 581.5,253.5C583.0,251.4 584.7,248.4 586.3,248.7C587.9,248.9 589.6,253.7 591.1,255.0C592.6,256.3 594.0,260.1 595.1,256.6C596.2,253.2 596.3,242.3 597.5,234.3C598.7,226.3 600.7,215.1 602.3,208.7C603.9,202.3 605.5,197.3 607.1,196.0C608.7,194.7 610.3,195.5 611.9,200.8C613.5,206.1 615.3,218.1 616.6,227.9C617.9,237.7 619.0,253.4 619.8,259.8C620.6,266.2 620.3,267.2 621.4,266.2C622.5,265.1 624.6,255.6 626.2,253.5C627.8,251.4 629.4,251.7 631.0,253.5C632.6,255.3 634.2,265.1 635.8,264.6C637.4,264.1 639.0,255.4 640.6,250.3C642.2,245.2 643.8,238.6 645.4,234.3C647.0,230.0 648.6,225.0 650.2,224.7C651.8,224.4 653.4,226.8 655.0,232.7C656.6,238.5 658.6,253.4 659.8,259.8C661.0,266.2 661.2,270.7 662.2,271.0C663.2,271.3 664.7,264.8 666.1,261.4C667.5,257.9 669.3,251.9 670.9,250.3C672.5,248.7 674.1,248.7 675.7,251.9C677.3,255.1 679.2,266.5 680.5,269.4C681.8,272.3 682.4,274.2 683.7,269.4C685.0,264.6 686.9,249.2 688.5,240.7C690.1,232.2 691.7,219.6 693.3,218.3C694.9,217.0 696.4,225.8 698.0,232.7C699.6,239.6 701.5,253.8 702.8,259.8C704.1,265.8 704.7,268.6 706.0,268.6C707.3,268.6 709.2,261.8 710.8,259.8C712.4,257.8 713.9,256.6 715.5,256.6C717.1,256.6 719.0,257.7 720.3,259.8C721.6,261.9 722.2,272.0 723.5,269.4C724.8,266.8 726.7,250.6 728.3,243.9C729.9,237.2 731.5,232.4 733.1,229.5C734.7,226.6 736.3,225.0 737.9,226.3C739.5,227.6 741.2,231.9 742.7,237.5C744.2,243.1 745.4,257.7 746.7,259.8C748.0,261.9 749.4,252.7 750.7,250.3C752.0,247.9 753.1,244.7 754.7,245.5C756.3,246.3 758.6,251.6 760.3,255.0C762.0,258.4 763.4,268.6 765.0,266.2C766.6,263.8 768.2,248.9 769.8,240.7C771.4,232.4 773.1,221.9 774.6,216.7C776.1,211.5 777.3,209.8 778.6,209.5C779.9,209.2 781.4,209.9 782.6,215.1C783.8,220.3 784.7,233.0 785.8,240.7C786.9,248.4 787.7,260.1 789.0,261.4C790.3,262.7 791.9,251.6 793.8,248.7C795.7,245.8 798.3,243.6 800.2,243.9C802.1,244.2 803.5,248.2 805.0,250.3C806.5,252.4 807.7,258.7 809.0,256.6C810.3,254.5 811.5,243.1 813.0,237.5C814.5,231.9 816.1,224.7 817.7,223.1C819.3,221.5 821.2,222.8 822.5,227.9C823.8,233.0 824.6,247.1 825.7,253.5C826.8,259.9 827.6,265.9 828.9,266.2C830.2,266.4 831.8,258.7 833.7,255.0C835.6,251.3 838.2,245.2 840.1,243.9C842.0,242.6 843.3,244.2 844.9,247.1C846.5,250.0 848.3,260.4 849.6,261.5C850.9,262.6 851.7,258.3 852.8,253.5C853.9,248.7 854.7,237.9 856.0,232.7C857.3,227.5 859.3,223.4 860.8,222.3C862.3,221.2 863.6,222.2 864.8,226.3C866.0,230.4 867.1,240.4 868.0,247.1C868.9,253.8 869.2,265.5 870.4,266.3C871.6,267.1 873.5,255.1 875.2,251.9C876.9,248.7 879.1,246.8 880.7,247.1C882.3,247.4 883.5,251.4 884.7,253.5C885.9,255.6 886.6,262.6 887.9,259.9C889.2,257.2 891.0,245.2 892.7,237.5C894.4,229.8 896.7,218.5 898.3,213.6C899.9,208.7 900.8,207.2 902.3,208.0C903.8,208.8 905.8,212.4 907.1,218.4C908.4,224.4 909.4,237.2 910.3,243.9C911.2,250.6 911.6,256.4 912.7,258.3C913.8,260.2 915.0,256.2 916.7,255.1C918.4,254.0 921.0,252.7 923.1,251.9C925.2,251.1 927.6,250.3 929.5,250.3C931.4,250.3 932.4,251.9 934.3,251.9C936.2,251.9 939.6,250.6 940.7,250.3" stroke="#ffa500"/>
<path d="M547.0,344.8C547.7,344.5 549.9,347.8 551.4,343.1C552.9,338.4 554.5,324.0 555.8,316.7C557.1,309.4 558.1,302.6 559.3,299.2C560.5,295.8 561.5,295.9 562.8,296.5C564.1,297.1 565.9,298.8 567.2,302.7C568.5,306.6 569.5,313.8 570.7,320.2C571.9,326.6 572.9,337.8 574.2,341.3C575.5,344.8 577.0,340.6 578.6,341.3C580.2,342.0 582.4,344.7 583.9,345.7C585.4,346.7 586.1,348.4 587.4,347.5C588.7,346.6 590.3,341.6 591.8,340.4C593.3,339.2 595.0,343.8 596.2,340.4C597.4,337.0 597.9,327.6 598.8,320.2C599.7,312.8 600.2,300.7 601.5,295.7C602.8,290.7 605.4,293.3 606.7,290.4C608.0,287.5 608.4,280.0 609.4,278.1C610.4,276.2 611.9,276.1 612.9,279.0C613.9,281.9 614.6,288.2 615.5,295.7C616.4,303.2 617.3,316.2 618.2,323.8C619.1,331.4 619.5,338.1 620.8,341.3C622.1,344.5 624.4,341.6 626.1,343.1C627.9,344.6 629.4,349.4 631.3,350.1C633.2,350.8 635.9,347.8 637.5,347.5C639.1,347.2 640.0,352.2 641.0,348.3C642.0,344.4 642.6,332.9 643.6,323.8C644.6,314.7 645.6,302.1 647.1,293.9C648.6,285.7 650.9,277.7 652.4,274.6C653.9,271.5 654.4,273.8 655.9,275.5C657.4,277.2 660.0,279.7 661.2,285.1C662.4,290.5 662.2,299.8 662.9,308.0C663.6,316.2 665.0,328.2 665.6,334.3C666.2,340.4 665.5,343.6 666.4,344.8C667.3,346.0 669.3,340.6 670.8,341.3C672.3,342.0 673.6,349.1 675.2,349.2C676.8,349.3 678.7,343.4 680.5,342.2C682.3,341.0 684.3,348.8 685.8,342.2C687.3,335.6 688.1,312.2 689.3,302.7C690.5,293.2 691.6,288.8 692.8,285.1C694.0,281.4 695.0,280.1 696.3,280.7C697.6,281.3 699.2,284.1 700.5,288.6C701.8,293.2 702.8,301.3 704.0,308.0C705.2,314.7 706.7,323.4 707.6,329.0C708.5,334.6 708.1,338.7 709.3,341.3C710.5,343.9 713.0,343.6 714.6,344.8C716.2,346.0 717.4,348.6 719.0,348.3C720.6,348.0 722.7,343.5 724.2,343.1C725.7,342.7 726.8,349.5 727.8,345.7C728.8,341.9 729.2,329.7 730.4,320.2C731.6,310.7 733.3,297.1 734.8,288.6C736.3,280.1 737.9,272.5 739.2,269.3C740.5,266.1 741.5,266.7 742.7,269.3C743.9,271.9 745.2,277.2 746.2,285.1C747.2,293.0 748.1,307.6 748.8,316.7C749.5,325.8 749.4,335.8 750.6,339.6C751.8,343.4 754.4,339.3 755.9,339.6C757.4,339.9 758.4,339.6 759.4,341.3C760.4,343.1 760.7,349.1 762.0,350.1C763.3,351.1 765.5,347.5 767.3,347.5C769.0,347.5 771.0,352.3 772.5,350.1C774.0,347.9 774.9,341.3 776.1,334.3C777.3,327.3 778.4,316.5 779.6,308.0C780.8,299.5 781.9,287.8 783.1,283.4C784.3,279.0 785.6,278.4 786.6,281.6C787.6,284.8 788.3,294.8 789.2,302.7C790.1,310.6 791.2,321.1 791.9,329.0C792.6,336.9 792.4,347.0 793.6,350.1C794.8,353.2 797.1,347.6 798.9,347.5C800.7,347.4 802.5,349.6 804.2,349.2C806.0,348.8 807.8,344.9 809.4,344.8C811.0,344.7 812.6,352.4 813.8,348.3C815.0,344.2 815.5,327.8 816.4,320.2C817.3,312.6 817.9,306.8 819.1,302.7C820.3,298.6 822.2,297.2 823.5,295.7C824.8,294.2 826.0,291.8 827.0,293.9C828.0,295.9 828.7,301.3 829.6,308.0C830.5,314.7 831.4,327.0 832.3,334.3C833.2,341.6 833.7,349.3 834.9,351.9C836.1,354.5 837.7,350.4 839.3,350.1C840.9,349.8 842.9,351.6 844.5,350.1C846.1,348.6 847.9,343.1 848.9,341.3C849.9,339.6 849.4,339.9 850.5,339.6C851.6,339.3 854.6,344.3 855.8,339.6C857.0,334.9 857.0,320.6 857.6,311.5C858.2,302.4 858.6,289.6 859.3,285.1C860.0,280.6 861.0,282.5 862.0,284.3C863.0,286.1 864.2,295.1 865.5,295.7C866.8,296.3 868.7,286.3 869.9,287.8C871.1,289.3 871.8,296.2 872.5,304.5C873.2,312.8 873.6,331.4 874.3,337.8C875.0,344.2 875.9,342.8 876.9,343.1C877.9,343.4 878.6,338.7 880.4,339.6C882.1,340.5 885.0,346.9 887.4,348.4C889.8,349.9 892.7,353.1 894.5,348.4C896.3,343.7 896.8,329.4 898.0,320.3C899.2,311.2 900.3,299.0 901.5,293.9C902.7,288.8 903.8,288.9 905.0,289.5C906.2,290.1 907.5,292.8 908.5,297.4C909.5,301.9 910.6,310.9 911.2,316.8C911.8,322.7 911.0,329.1 912.0,332.6C913.0,336.1 915.4,335.6 917.3,337.8C919.2,340.0 922.5,344.4 923.5,345.7" stroke="#0f9a4c"/>
<path d="M547.2,394.7C547.6,393.6 548.7,391.0 549.6,388.3C550.5,385.6 551.5,381.4 552.8,378.7C554.1,376.0 555.7,373.3 557.6,372.4C559.5,371.5 562.1,372.1 564.0,373.2C565.9,374.2 567.4,375.6 568.7,378.7C570.0,381.8 570.6,386.2 571.9,391.5C573.2,396.8 575.2,405.1 576.7,410.7C578.2,416.3 579.4,423.1 580.7,425.0C582.0,426.9 583.2,425.1 584.7,421.9C586.2,418.7 587.9,412.6 589.5,405.9C591.1,399.2 592.7,388.0 594.3,381.9C595.9,375.8 597.4,371.4 599.1,369.2C600.8,366.9 602.8,367.6 604.7,368.4C606.6,369.2 608.6,370.4 610.3,374.0C612.0,377.6 613.4,384.0 615.0,389.9C616.6,395.8 618.3,403.5 619.8,409.1C621.3,414.7 622.5,421.1 623.8,423.5C625.1,425.9 626.3,425.6 627.8,423.5C629.3,421.4 631.0,416.6 632.6,410.7C634.2,404.8 635.8,394.4 637.4,388.3C639.0,382.2 640.3,377.2 642.2,374.0C644.1,370.8 646.6,369.7 648.6,369.2C650.6,368.7 652.6,368.7 654.2,370.8C655.8,372.9 656.7,376.8 658.2,381.9C659.7,386.9 661.4,394.7 663.0,401.1C664.6,407.5 666.4,416.3 667.7,420.3C669.0,424.3 669.6,425.0 670.9,425.0C672.2,425.0 674.1,424.3 675.7,420.3C677.3,416.3 678.9,408.6 680.5,401.1C682.1,393.6 683.7,381.1 685.3,375.5C686.9,369.9 688.2,367.3 690.1,367.6C692.0,367.9 694.5,373.9 696.4,377.1C698.2,380.3 699.6,382.4 701.2,386.7C702.8,391.0 704.4,397.4 706.0,402.7C707.6,408.0 709.5,414.7 710.8,418.7C712.1,422.7 712.7,426.1 714.0,426.6C715.3,427.1 717.1,425.1 718.7,421.9C720.3,418.7 721.9,414.7 723.5,407.5C725.1,400.3 726.8,384.6 728.3,378.7C729.8,372.8 731.0,373.2 732.3,372.4C733.6,371.6 735.0,374.4 736.3,374.0C737.6,373.6 739.0,369.2 740.3,370.0C741.6,370.8 742.8,374.6 744.3,378.7C745.8,382.8 747.5,388.8 749.1,394.7C750.7,400.6 752.3,408.6 753.9,413.9C755.5,419.2 757.4,425.3 758.7,426.6C760.0,427.9 760.6,425.9 761.9,421.9C763.2,417.9 765.0,409.9 766.6,402.7C768.2,395.5 769.8,385.3 771.4,378.7C773.0,372.1 774.6,365.4 776.2,362.8C777.8,360.2 779.4,361.7 781.0,362.8C782.6,363.9 784.2,365.2 785.8,369.2C787.4,373.2 789.0,380.3 790.6,386.7C792.2,393.1 793.8,401.1 795.4,407.5C797.0,413.9 798.9,421.8 800.2,425.0C801.5,428.2 802.3,427.9 803.4,426.6C804.5,425.3 805.3,422.4 806.6,417.1C807.9,411.8 809.5,401.6 811.4,394.7C813.2,387.8 815.6,380.6 817.7,375.5C819.8,370.4 822.2,365.4 824.1,364.4C826.0,363.3 827.6,365.8 828.9,369.2C830.2,372.6 830.8,379.0 832.1,385.1C833.4,391.2 835.3,399.2 836.9,405.9C838.5,412.5 840.6,421.3 841.7,425.0C842.8,428.7 842.7,428.8 843.5,428.0C844.3,427.2 845.6,423.7 846.5,420.0C847.4,416.3 847.7,411.4 849.0,406.0C850.3,400.6 852.5,393.3 854.5,387.4C856.5,381.5 858.7,373.9 860.8,370.8C862.9,367.7 865.3,367.7 867.0,368.7C868.7,369.7 869.7,372.5 871.1,377.0C872.5,381.5 873.7,388.8 875.3,395.7C876.9,402.6 879.0,413.7 880.5,418.5C882.0,423.3 883.1,425.7 884.6,424.7C886.1,423.7 888.1,416.1 889.8,412.3C891.5,408.5 893.4,407.1 895.0,401.9C896.6,396.7 897.6,385.8 899.2,381.1C900.8,376.4 902.5,373.5 904.4,373.9C906.3,374.2 908.7,379.2 910.6,383.2C912.5,387.2 914.4,392.2 915.8,397.7C917.2,403.2 917.7,411.9 918.9,416.4C920.1,420.9 921.6,423.5 923.0,424.7C924.4,425.9 925.8,423.2 927.2,423.7C928.6,424.2 929.6,426.4 931.3,427.8C933.0,429.2 936.5,431.3 937.6,432.0" stroke="#0a50ff"/>
<path d="M546.2,438.8C547.3,438.5 550.4,436.9 552.5,437.2C554.6,437.5 556.9,438.5 558.8,440.3C560.6,442.1 561.6,445.9 563.4,448.1C565.2,450.3 567.4,452.6 569.7,453.6C572.1,454.7 575.2,454.8 577.5,454.4C579.8,454.0 581.7,453.6 583.8,451.2C585.8,448.9 587.9,442.9 590.0,440.3C592.1,437.7 594.2,436.5 596.2,435.6C598.3,434.7 600.7,433.8 602.5,434.8C604.3,435.9 605.6,439.2 607.2,441.9C608.8,444.6 610.3,448.9 611.9,451.2C613.5,453.6 614.5,455.2 616.6,455.9C618.7,456.6 622.3,456.0 624.4,455.2C626.5,454.4 627.5,453.7 629.1,451.2C630.7,448.8 631.7,443.0 633.8,440.3C635.8,437.6 639.3,435.3 641.6,434.8C643.9,434.3 646.0,435.5 647.8,437.2C649.6,438.9 650.9,442.7 652.5,445.0C654.1,447.3 655.4,450.1 657.2,451.2C659.0,452.4 661.6,451.3 663.4,452.0C665.2,452.7 666.5,455.7 668.1,455.2C669.7,454.7 671.0,450.3 672.8,448.9C674.6,447.5 677.4,448.3 679.0,446.6C680.6,444.9 680.9,440.6 682.2,438.8C683.5,436.9 685.1,435.9 686.9,435.6C688.7,435.3 691.5,436.1 693.1,437.2C694.7,438.2 695.2,439.8 696.2,441.9C697.3,444.0 697.8,447.5 699.4,449.7C701.0,451.9 703.3,454.7 705.6,455.2C707.9,455.7 711.0,453.2 713.4,452.8C715.8,452.4 717.9,454.6 719.7,452.8C721.5,451.0 722.6,444.5 724.4,441.9C726.2,439.3 728.3,437.6 730.6,437.2C732.9,436.8 736.0,437.7 738.4,439.5C740.8,441.3 742.6,445.6 744.7,448.1C746.8,450.6 749.1,452.4 750.9,454.4C752.7,456.3 753.8,460.1 755.6,459.8C757.4,459.5 759.8,455.3 761.9,452.8C764.0,450.3 765.8,447.1 768.1,445.0C770.4,442.9 773.3,440.6 775.9,440.3C778.5,440.0 781.4,442.1 783.8,443.4C786.1,444.7 787.7,446.0 790.0,448.1C792.3,450.2 795.7,455.4 797.8,455.9C799.9,456.4 800.7,452.6 802.5,451.2C804.3,449.9 806.7,450.2 808.8,448.1C810.8,446.0 812.7,440.3 815.0,438.8C817.3,437.2 820.7,438.0 822.8,438.8C824.9,439.5 825.7,441.1 827.5,443.4C829.3,445.7 831.4,451.0 833.8,452.8C836.1,454.6 839.5,454.1 841.6,454.4C843.7,454.7 844.4,456.6 846.2,454.8C848.0,453.0 850.4,446.2 852.5,443.4C854.6,440.6 856.3,438.9 858.7,438.2C861.1,437.5 864.6,438.1 867.0,439.3C869.4,440.5 871.5,443.1 873.2,445.5C874.9,447.9 875.7,452.4 877.4,453.8C879.1,455.2 881.4,454.0 883.6,453.8C885.9,453.6 889.0,454.5 890.9,452.8C892.8,451.1 892.8,446.0 895.0,443.4C897.2,440.8 901.4,437.9 904.4,437.2C907.4,436.5 910.6,437.2 912.7,439.3C914.8,441.4 915.1,447.4 916.8,449.6C918.5,451.9 920.9,451.9 923.0,452.8C925.1,453.7 927.2,453.9 929.3,454.8C931.4,455.7 933.6,456.8 935.5,458.0C937.4,459.2 939.8,461.4 940.7,462.1" stroke="#5a05a0"/>
</g>
<line x1="543.2" y1="105" x2="543.2" y2="468.4" stroke="#111" stroke-width="2.4"/>
<line x1="542" y1="467.2" x2="941.5" y2="467.2" stroke="#111" stroke-width="2.6"/>
<line x1="530.8" y1="152.5" x2="543" y2="152.5" stroke="#111" stroke-width="2.2"/>
<line x1="530.8" y1="228" x2="543" y2="228" stroke="#111" stroke-width="2.2"/>
<line x1="530.8" y1="303.5" x2="543" y2="303.5" stroke="#111" stroke-width="2.2"/>
<line x1="530.8" y1="379" x2="543" y2="379" stroke="#111" stroke-width="2.2"/>
<line x1="530.8" y1="454.3" x2="543" y2="454.3" stroke="#111" stroke-width="2.2"/>
<line x1="548.4" y1="467" x2="548.4" y2="478.3" stroke="#111" stroke-width="2.2"/>
<line x1="633.6" y1="467" x2="633.6" y2="478.3" stroke="#111" stroke-width="2.2"/>
<line x1="718.9" y1="467" x2="718.9" y2="478.3" stroke="#111" stroke-width="2.2"/>
<line x1="803.9" y1="467" x2="803.9" y2="478.3" stroke="#111" stroke-width="2.2"/>
<line x1="889" y1="467" x2="889" y2="478.3" stroke="#111" stroke-width="2.2"/>
<line x1="399.2" y1="216.6" x2="400.5" y2="416" stroke="#18f018" stroke-width="3.4" stroke-dasharray="11 8.3"/>
<g stroke="#111" stroke-width="1.5" fill="none"><polyline points="75.6,136 75.6,173.6 121,173.6"/></g>
<polygon points="75.6,131.5 71.6,138.5 79.6,138.5" fill="#111"/>
<polygon points="125.5,173.6 117,169.8 117,177.4" fill="#111"/>
<line x1="64.8" y1="148.5" x2="64.8" y2="154.5" stroke="#111" stroke-width="1.5"/>
<text x="230.0" y="32.0" font-size="19.5" fill="#fff" stroke="#fff" stroke-width="0.0" font-style="italic" textLength="23.3" lengthAdjust="spacingAndGlyphs">(a)</text>
<text x="8.0" y="236.6" font-size="19.5" fill="#fff" stroke="#fff" stroke-width="0.0" font-style="italic" textLength="26.8" lengthAdjust="spacingAndGlyphs">(b)</text>
<text x="228.4" y="238.6" font-size="19.5" fill="#fff" stroke="#fff" stroke-width="0.0" font-style="italic" textLength="26.8" lengthAdjust="spacingAndGlyphs">(c)</text>
<text x="6.8" y="437.1" font-size="19.5" fill="#fff" stroke="#fff" stroke-width="0.0" font-style="italic" textLength="27.4" lengthAdjust="spacingAndGlyphs">(d)</text>
<text x="225.3" y="440.6" font-size="19.5" fill="#fff" stroke="#fff" stroke-width="0.0" font-style="italic" textLength="27.3" lengthAdjust="spacingAndGlyphs">(e)</text>
<text x="283.0" y="205.9" font-size="16.5" fill="#fff" stroke="#fff" stroke-width="0.0" font-style="italic" textLength="66.7" lengthAdjust="spacingAndGlyphs">200 nm</text>
<text x="65.2" y="411.7" font-size="16.5" fill="#fff" stroke="#fff" stroke-width="0.0" font-style="italic" textLength="67.4" lengthAdjust="spacingAndGlyphs">280 nm</text>
<text x="281.8" y="412.9" font-size="16.5" fill="#fff" stroke="#fff" stroke-width="0.0" font-style="italic" textLength="67.2" lengthAdjust="spacingAndGlyphs">400 nm</text>
<text x="63.0" y="615.3" font-size="16.5" fill="#fff" stroke="#fff" stroke-width="0.0" font-style="italic" textLength="66.7" lengthAdjust="spacingAndGlyphs">560 nm</text>
<text x="285.1" y="615.3" font-size="16.5" fill="#fff" stroke="#fff" stroke-width="0.0" font-style="italic" textLength="66.0" lengthAdjust="spacingAndGlyphs">800 nm</text>
<text x="496.4" y="31.0" font-size="20.5" fill="#111" stroke="#111" stroke-width="0.45" font-style="italic" textLength="21.5" lengthAdjust="spacingAndGlyphs">(f)</text>
<text x="910.8" y="35.3" font-size="15.5" fill="#111" stroke="#111" stroke-width="0.45" font-style="italic" textLength="100.4" lengthAdjust="spacingAndGlyphs">Unpatterned</text>
<text x="854.1" y="76.6" font-size="15.5" fill="#111" stroke="#111" stroke-width="0.45" font-style="italic" textLength="79.2" lengthAdjust="spacingAndGlyphs">2-fold site</text>
<text x="793.3" y="106.0" font-size="15.5" fill="#111" stroke="#111" stroke-width="0.45" font-style="italic" textLength="79.2" lengthAdjust="spacingAndGlyphs">4-fold site</text>
<text x="944.5" y="136.8" font-size="14.5" fill="#ff1020" stroke="#ff1020" stroke-width="0.45" font-style="italic" textLength="73.0" lengthAdjust="spacingAndGlyphs">λ=200nm</text>
<text x="945.5" y="213.6" font-size="14.5" fill="#fba040" stroke="#fba040" stroke-width="0.45" font-style="italic" textLength="73.4" lengthAdjust="spacingAndGlyphs">λ=280nm</text>
<text x="945.5" y="300.3" font-size="14.5" fill="#1a9a4a" stroke="#1a9a4a" stroke-width="0.45" font-style="italic" textLength="73.4" lengthAdjust="spacingAndGlyphs">λ=400nm</text>
<text x="945.5" y="380.8" font-size="14.5" fill="#3030ff" stroke="#3030ff" stroke-width="0.45" font-style="italic" textLength="73.4" lengthAdjust="spacingAndGlyphs">λ=560nm</text>
<text x="945.5" y="430.3" font-size="14.5" fill="#8a18d0" stroke="#8a18d0" stroke-width="0.45" font-style="italic" textLength="75.0" lengthAdjust="spacingAndGlyphs">λ=800nm</text>
<text x="454.8" y="159.4" font-size="17.5" fill="#111" stroke="#111" stroke-width="0.45" textLength="55.4" lengthAdjust="spacingAndGlyphs">80x10</text>
<text x="512.0" y="147.5" font-size="11.5" fill="#111" stroke="#111" stroke-width="0.45" textLength="12.0" lengthAdjust="spacingAndGlyphs">-9</text>
<text x="502.5" y="235.0" font-size="17.5" fill="#111" stroke="#111" stroke-width="0.45" textLength="22.1" lengthAdjust="spacingAndGlyphs">60</text>
<text x="502.5" y="310.0" font-size="17.5" fill="#111" stroke="#111" stroke-width="0.45" textLength="22.1" lengthAdjust="spacingAndGlyphs">40</text>
<text x="502.5" y="386.2" font-size="17.5" fill="#111" stroke="#111" stroke-width="0.45" textLength="22.1" lengthAdjust="spacingAndGlyphs">20</text>
<text x="514.2" y="460.0" font-size="17.5" fill="#111" stroke="#111" stroke-width="0.45" textLength="9.1" lengthAdjust="spacingAndGlyphs">0</text>
<text x="543.0" y="504.3" font-size="17.5" fill="#111" stroke="#111" stroke-width="0.45" textLength="9.5" lengthAdjust="spacingAndGlyphs">0</text>
<text x="628.2" y="504.3" font-size="17.5" fill="#111" stroke="#111" stroke-width="0.45" textLength="9.5" lengthAdjust="spacingAndGlyphs">2</text>
<text x="713.5" y="504.3" font-size="17.5" fill="#111" stroke="#111" stroke-width="0.45" textLength="9.5" lengthAdjust="spacingAndGlyphs">4</text>
<text x="798.5" y="504.3" font-size="17.5" fill="#111" stroke="#111" stroke-width="0.45" textLength="9.5" lengthAdjust="spacingAndGlyphs">6</text>
<text x="883.6" y="504.3" font-size="17.5" fill="#111" stroke="#111" stroke-width="0.45" textLength="9.5" lengthAdjust="spacingAndGlyphs">8</text>
<text x="673.2" y="527.5" font-size="21.5" fill="#111" stroke="#111" stroke-width="0.45" font-style="italic" textLength="272.5" lengthAdjust="spacingAndGlyphs">Laterial Size (# of period)</text>
<text x="74.6" y="191.2" font-size="15.0" fill="#111" stroke="#111" stroke-width="0.45" font-style="italic" textLength="37.4" lengthAdjust="spacingAndGlyphs">[110]</text>
<text transform="translate(468.6,338.3) rotate(-90)" font-size="22" fill="#111" stroke="#111" stroke-width="0.5" font-style="italic" textLength="102.7" lengthAdjust="spacingAndGlyphs">Height (m)</text>
<text transform="translate(62.3,162.6) rotate(-90)" font-size="15" fill="#111" stroke="#111" stroke-width="0.4" font-style="italic" textLength="38.8" lengthAdjust="spacingAndGlyphs">[110]</text>
</svg>
</body></html>
